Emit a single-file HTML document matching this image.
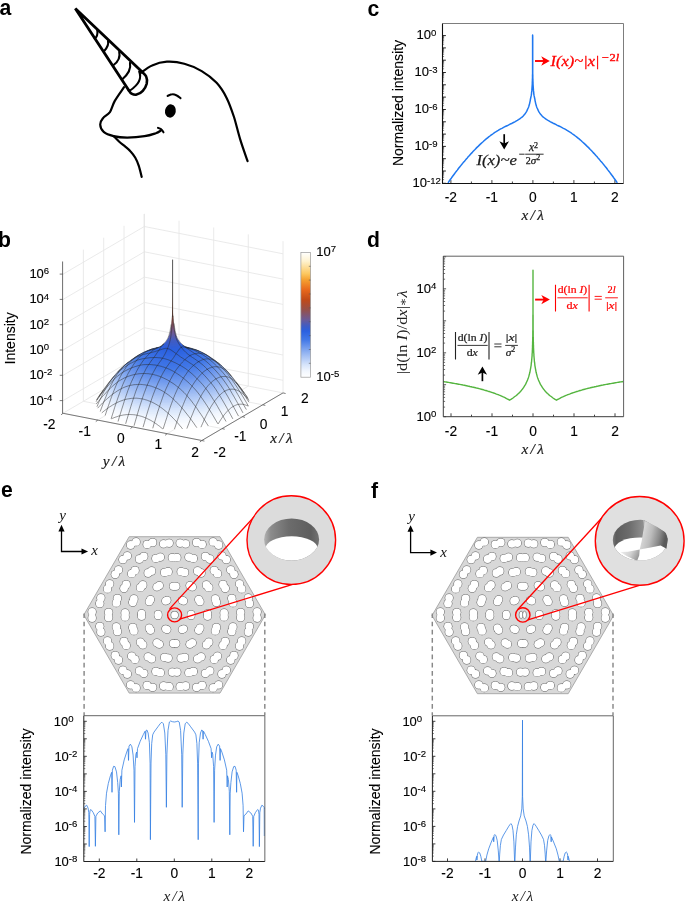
<!DOCTYPE html><html><head><meta charset="utf-8"><title>Figure</title><style>html,body{margin:0;padding:0;background:#fff}svg{display:block}</style></head><body><svg width="685" height="904" viewBox="0 0 685 904"><rect width="685" height="904" fill="#fff"/><g font-family='"Liberation Sans", Arial, sans-serif' font-weight="bold" font-size="22.3" fill="#000"><text transform="translate(-0.45 15.3) scale(0.95 1)">a</text><text transform="translate(-1.90 246.9) scale(0.95 1)">b</text><text transform="translate(367.45 15.6) scale(0.95 1)">c</text><text transform="translate(367.05 246.9) scale(0.95 1)">d</text><text transform="translate(1.00 497.4) scale(0.95 1)">e</text><text transform="translate(371.00 497.7) scale(0.95 1)">f</text></g><g fill="none" stroke="#000" stroke-width="2.2" stroke-linecap="round" stroke-linejoin="round"><path d="M128.9 90.5L75.3 8.6L141.7 71.5" stroke-width="2.8" stroke-linejoin="miter"/><path d="M141.7 71.5C142.5 72.4 145.4 74.6 146.2 76.6C147.1 78.7 147.2 81.4 146.7 83.8C146.1 86.2 144.4 89.1 142.8 90.9C141.1 92.8 138.5 94.2 136.6 94.6C134.8 95.1 132.8 94.3 131.5 93.6C130.2 92.9 129.3 91 128.9 90.5" stroke-width="2.6"/><path d="M97.3 30.2Q98.1 36.2 94.7 38.7" stroke-width="2.1"/><path d="M108 41Q109.2 45.3 104.4 50.7" stroke-width="2.1"/><path d="M119.2 51.7Q121 59.4 113.6 65" stroke-width="2.1"/><path d="M130 62.9Q131.7 71.1 122.3 79.3" stroke-width="2.1"/><path d="M139.2 71.5Q143.3 81.6 130 90.5" stroke-width="2.1"/><path d="M140.9 72.8C142.7 71.6 147.7 67.2 152.1 65.4C156.4 63.5 161.6 62 166.9 61.7C172.3 61.4 178.5 62.1 184.3 63.7C190.1 65.2 196.3 67.9 201.7 71.1C207.1 74.3 212.4 78.3 216.6 82.8C220.7 87.2 223.6 91.9 226.5 97.7C229.4 103.4 231.7 110.1 234 117C236.2 124 237.9 132 240.2 139.4C242.4 146.7 246.4 157.6 247.6 161.2"/><path d="M124 87.2C122.5 89.5 117.2 96.7 114.8 100.9C112.5 105 111.8 109.2 109.9 112.1C107.9 114.9 104.5 116.2 102.9 118.3C101.3 120.3 100.1 122.2 100.2 124.5C100.3 126.7 101.4 130 103.7 131.9C105.9 133.9 109.6 135.2 113.6 136.1C117.5 137.1 122.1 137.6 127.2 137.6C132.4 137.6 139.8 137 144.6 136.2C149.4 135.5 153 134.2 155.8 133.3C158.5 132.3 160.1 131 161 130.5"/><path d="M158 127.8C158.6 128.1 160.6 128.7 161.5 129.5C162.4 130.2 163.1 131.8 163.5 132.3" stroke-width="2.05"/><path d="M113.8 136.3C114.7 137.2 117.2 139.9 119 141.5C120.8 143.2 122.9 144.6 124.8 146.2C126.7 147.8 128.9 149.5 130.6 151.4C132.4 153.3 133.9 155.4 135.3 157.8C136.7 160.2 137.7 162.7 138.8 165.9C139.9 169.1 141.2 175.1 141.7 176.9"/><path d="M167.6 95.9C168.4 95.6 170.9 94.2 172.4 94.2C173.9 94.1 175.4 94.8 176.8 95.5C178.1 96.1 179.9 97.7 180.5 98.1" stroke-width="2.1"/><ellipse cx="170.4" cy="111" rx="5.4" ry="6.7" fill="#000" stroke="none" transform="rotate(10 170.4 111)"/></g><path d="M63.1 413.2L144.3 365.6M63.1 413.2L201.8 440.5M97.8 420L179 372.4M83.4 401.3L222.1 428.6M132.5 426.9L213.7 379.2M103.7 389.4L242.4 416.7M167.1 433.7L248.3 386.1M124 377.5L262.7 404.8M201.8 440.5L283 392.9M144.3 365.6L283 392.9M63.1 413.2v-151.7M144.3 365.6v-151.7M83.4 401.3v-151.7M179 372.4v-151.7M103.7 389.4v-151.7M213.7 379.2v-151.7M124 377.5v-151.7M248.3 386.1v-151.7M144.3 365.6v-151.7M283 392.9v-151.7M63.1 400.6L144.3 353L283 380.3M63.1 375.3L144.3 327.7L283 355M63.1 350L144.3 302.4L283 329.7M63.1 324.7L144.3 277.1L283 304.4M63.1 299.4L144.3 251.8L283 279.1M63.1 274.1L144.3 226.5L283 253.8" fill="none" stroke="#e4e4e4" stroke-width="0.8"/><clipPath id="cb"><path d="M62.5 261.5L143.8 213.9L283 241.2V392.9L201.8 440.5L62.5 413.2Z"/></clipPath><g clip-path="url(#cb)"><g transform="translate(-0.45 0)"><circle r="1" transform="matrix(38.57 -22.61 65.882 12.967 173.05 403.05)" fill="#ffffff"/><circle r="1" transform="matrix(38.062 -22.312 65.016 12.797 173.05 401.59)" fill="#fcfdff"/><circle r="1" transform="matrix(37.555 -22.015 64.149 12.626 173.05 400.14)" fill="#fafcff"/><circle r="1" transform="matrix(37.047 -21.718 63.282 12.456 173.05 398.69)" fill="#f7fafe"/><circle r="1" transform="matrix(36.54 -21.42 62.415 12.285 173.05 397.26)" fill="#f4f8fe"/><circle r="1" transform="matrix(36.032 -21.122 61.548 12.114 173.05 395.84)" fill="#f2f6fe"/><circle r="1" transform="matrix(35.525 -20.825 60.681 11.944 173.05 394.43)" fill="#edf4fe"/><circle r="1" transform="matrix(35.017 -20.527 59.814 11.773 173.05 393.04)" fill="#e8f0fd"/><circle r="1" transform="matrix(34.51 -20.23 58.947 11.602 173.05 391.65)" fill="#e3edfc"/><circle r="1" transform="matrix(34.002 -19.932 58.081 11.432 173.05 390.27)" fill="#deeafc"/><circle r="1" transform="matrix(33.495 -19.635 57.214 11.261 173.05 388.89)" fill="#dae6fb"/><circle r="1" transform="matrix(32.988 -19.338 56.347 11.091 173.05 387.53)" fill="#d4e3fb"/><circle r="1" transform="matrix(32.48 -19.04 55.48 10.92 173.05 386.18)" fill="#cedefa"/><circle r="1" transform="matrix(31.973 -18.742 54.613 10.749 173.05 384.87)" fill="#c8daf9"/><circle r="1" transform="matrix(31.465 -18.445 53.746 10.579 173.05 383.58)" fill="#c2d6f8"/><circle r="1" transform="matrix(30.957 -18.148 52.879 10.408 173.05 382.32)" fill="#bcd1f7"/><circle r="1" transform="matrix(30.45 -17.85 52.012 10.238 173.05 381.06)" fill="#b6cdf7"/><circle r="1" transform="matrix(29.942 -17.552 51.146 10.067 173.05 379.81)" fill="#b0c9f6"/><circle r="1" transform="matrix(29.435 -17.255 50.279 9.896 173.05 378.59)" fill="#abc5f5"/><circle r="1" transform="matrix(28.927 -16.957 49.412 9.726 173.05 377.41)" fill="#a5c1f4"/><circle r="1" transform="matrix(28.42 -16.66 48.545 9.555 173.05 376.27)" fill="#a0bdf3"/><circle r="1" transform="matrix(27.913 -16.363 47.678 9.384 173.05 375.2)" fill="#9bb9f3"/><circle r="1" transform="matrix(27.405 -16.065 46.811 9.214 173.05 374.17)" fill="#96b6f2"/><circle r="1" transform="matrix(26.898 -15.768 45.944 9.043 173.05 373.17)" fill="#91b3f1"/><circle r="1" transform="matrix(26.39 -15.47 45.077 8.872 173.05 372.2)" fill="#8caff1"/><circle r="1" transform="matrix(25.883 -15.172 44.211 8.702 173.05 371.26)" fill="#88acf0"/><circle r="1" transform="matrix(25.375 -14.875 43.344 8.531 173.05 370.35)" fill="#83a8ef"/><circle r="1" transform="matrix(24.868 -14.578 42.477 8.361 173.05 369.47)" fill="#7fa5ef"/><circle r="1" transform="matrix(24.36 -14.28 41.61 8.19 173.05 368.61)" fill="#7aa2ee"/><circle r="1" transform="matrix(23.852 -13.982 40.743 8.019 173.05 367.77)" fill="#769eee"/><circle r="1" transform="matrix(23.345 -13.685 39.876 7.849 173.05 366.94)" fill="#729bed"/><circle r="1" transform="matrix(22.838 -13.388 39.009 7.678 173.05 366.13)" fill="#6e98ed"/><circle r="1" transform="matrix(22.33 -13.09 38.142 7.508 173.05 365.35)" fill="#6a95ec"/><circle r="1" transform="matrix(21.823 -12.793 37.276 7.337 173.05 364.58)" fill="#6692ec"/><circle r="1" transform="matrix(21.315 -12.495 36.409 7.166 173.05 363.84)" fill="#6290eb"/><circle r="1" transform="matrix(20.807 -12.197 35.542 6.996 173.05 363.12)" fill="#5e8deb"/><circle r="1" transform="matrix(20.3 -11.9 34.675 6.825 173.05 362.41)" fill="#5b8aea"/><circle r="1" transform="matrix(19.793 -11.603 33.808 6.654 173.05 361.72)" fill="#5788ea"/><circle r="1" transform="matrix(19.285 -11.305 32.941 6.484 173.05 361.03)" fill="#5485e9"/><circle r="1" transform="matrix(18.777 -11.008 32.074 6.313 173.05 360.36)" fill="#5083e9"/><circle r="1" transform="matrix(18.27 -10.71 31.207 6.143 173.05 359.71)" fill="#4d80e8"/><circle r="1" transform="matrix(17.762 -10.412 30.341 5.972 173.05 359.09)" fill="#4a7ee8"/><circle r="1" transform="matrix(17.255 -10.115 29.474 5.801 173.05 358.52)" fill="#477ce8"/><circle r="1" transform="matrix(16.747 -9.817 28.607 5.631 173.05 357.98)" fill="#447ae7"/><circle r="1" transform="matrix(16.24 -9.52 27.74 5.46 173.05 357.48)" fill="#4278e7"/><circle r="1" transform="matrix(15.732 -9.222 26.873 5.289 173.05 357)" fill="#4177e7"/><circle r="1" transform="matrix(15.225 -8.925 26.006 5.119 173.05 356.54)" fill="#4076e6"/><circle r="1" transform="matrix(14.718 -8.628 25.139 4.948 173.05 356.09)" fill="#3f75e6"/><circle r="1" transform="matrix(14.21 -8.33 24.272 4.777 173.05 355.66)" fill="#3e74e6"/><circle r="1" transform="matrix(13.703 -8.033 23.406 4.607 173.05 355.22)" fill="#3d73e5"/><circle r="1" transform="matrix(13.195 -7.735 22.539 4.436 173.05 354.79)" fill="#3c72e5"/><circle r="1" transform="matrix(12.688 -7.438 21.672 4.266 173.05 354.37)" fill="#3b71e5"/><circle r="1" transform="matrix(12.18 -7.14 20.805 4.095 173.05 353.96)" fill="#3a70e5"/><circle r="1" transform="matrix(11.672 -6.842 19.938 3.924 173.05 353.55)" fill="#396fe4"/><circle r="1" transform="matrix(11.165 -6.545 19.071 3.754 173.05 353.14)" fill="#386ee4"/><circle r="1" transform="matrix(10.658 -6.248 18.204 3.583 173.05 352.72)" fill="#376de4"/><circle r="1" transform="matrix(10.15 -5.95 17.337 3.413 173.05 352.27)" fill="#366ce4"/><circle r="1" transform="matrix(9.643 -5.653 16.471 3.242 173.05 351.78)" fill="#356be3"/><circle r="1" transform="matrix(9.135 -5.355 15.604 3.071 173.05 351.27)" fill="#346ae3"/><circle r="1" transform="matrix(8.628 -5.058 14.737 2.901 173.05 350.73)" fill="#3369e3"/><circle r="1" transform="matrix(8.12 -4.76 13.87 2.73 173.05 350.17)" fill="#3167e2"/><circle r="1" transform="matrix(7.613 -4.463 13.003 2.559 173.05 349.57)" fill="#3066e2"/><circle r="1" transform="matrix(7.105 -4.165 12.136 2.389 173.05 348.93)" fill="#2f65e1"/><circle r="1" transform="matrix(6.597 -3.867 11.269 2.218 173.05 348.23)" fill="#2d63e1"/><circle r="1" transform="matrix(6.09 -3.57 10.402 2.048 173.05 347.45)" fill="#2b61e0"/><circle r="1" transform="matrix(5.583 -3.273 9.536 1.877 173.05 346.57)" fill="#2b60de"/><circle r="1" transform="matrix(5.075 -2.975 8.669 1.706 173.05 345.57)" fill="#2f5fda"/><circle r="1" transform="matrix(4.568 -2.678 7.802 1.536 173.05 344.49)" fill="#325ed5"/><circle r="1" transform="matrix(4.06 -2.38 6.935 1.365 173.05 343.36)" fill="#365ed0"/><circle r="1" transform="matrix(3.553 -2.083 6.068 1.194 173.05 342.16)" fill="#3a5dca"/><circle r="1" transform="matrix(3.045 -1.785 5.201 1.024 173.05 340.82)" fill="#3f5cc4"/><circle r="1" transform="matrix(2.538 -1.488 4.334 0.853 173.05 339.18)" fill="#495cba"/><circle r="1" transform="matrix(2.03 -1.19 3.467 0.683 173.05 336.95)" fill="#555bad"/><linearGradient id="spg" gradientUnits="userSpaceOnUse" x1="0" y1="251.4" x2="0" y2="403.1"><stop offset="0" stop-color="#ffffff"/><stop offset="0.07" stop-color="#fff3d0"/><stop offset="0.17" stop-color="#fcc860"/><stop offset="0.22" stop-color="#f5a030"/><stop offset="0.3" stop-color="#e8681c"/><stop offset="0.38" stop-color="#c04a18"/><stop offset="0.46" stop-color="#95504a"/><stop offset="0.54" stop-color="#6a5a98"/><stop offset="0.59" stop-color="#3f5cc4"/><stop offset="0.63" stop-color="#2a60e0"/><stop offset="0.7" stop-color="#4278e7"/><stop offset="0.8" stop-color="#8fb1f1"/><stop offset="0.9" stop-color="#d6e4fb"/><stop offset="0.95" stop-color="#f1f6fe"/><stop offset="1" stop-color="#ffffff"/></linearGradient><polygon points="166.62,341.38 167.4,340.25 168.08,339.07 168.68,337.83 169.21,336.46 169.67,334.99 170.08,333.48 170.44,331.99 170.76,330.5 171.03,328.99 171.28,327.49 171.49,326.02 171.68,324.6 171.85,323.23 171.99,321.96 172.12,320.73 172.23,319.51 172.33,318.28 172.42,317.02 172.49,315.7 172.56,314.33 172.62,312.91 172.67,311.46 172.72,310 172.76,308.54 172.79,307.08 172.82,305.63 172.85,304.2 172.88,302.79 172.9,301.42 172.92,300.07 172.93,298.75 172.95,297.44 172.96,296.12 172.97,294.79 172.98,293.44 172.99,292.07 173,290.67 173,289.25 173.01,287.73 173.01,286.11 173.02,284.43 173.02,282.72 173.02,281.04 173.03,279.39 173.03,277.8 173.03,276.29 173.03,274.82 173.04,273.4 173.04,272 173.04,270.63 173.04,269.3 173.04,268 173.04,266.73 173.04,265.48 173.04,264.27 173.05,262.91 173.05,261.33 173.05,260.07 173.05,259.57 173.05,259.57 173.05,260.07 173.05,261.33 173.05,262.91 173.06,264.27 173.06,265.48 173.06,266.73 173.06,268 173.06,269.3 173.06,270.63 173.06,272 173.06,273.4 173.07,274.82 173.07,276.29 173.07,277.8 173.07,279.39 173.08,281.04 173.08,282.72 173.08,284.43 173.09,286.11 173.09,287.73 173.1,289.25 173.1,290.67 173.11,292.07 173.12,293.44 173.13,294.79 173.14,296.12 173.15,297.44 173.17,298.75 173.18,300.07 173.2,301.42 173.22,302.79 173.25,304.2 173.28,305.63 173.31,307.08 173.34,308.54 173.38,310 173.43,311.46 173.48,312.91 173.54,314.33 173.61,315.7 173.68,317.02 173.77,318.28 173.87,319.51 173.98,320.73 174.11,321.96 174.25,323.23 174.42,324.6 174.61,326.02 174.82,327.49 175.07,328.99 175.34,330.5 175.66,331.99 176.02,333.48 176.43,334.99 176.89,336.46 177.42,337.83 178.02,339.07 178.7,340.25 179.48,341.38" fill="url(#spg)"/><path d="M111.9 418.8 L112.7 418.4 L113.6 418.1 L114.4 417.7 L115.3 417.4 L116.1 417.1 L117 416.8 L117.9 416.5 L118.7 416.2 L119.6 416 L120.4 415.8 L121.3 415.6 L122.1 415.4 L123 415.2 L123.8 415 L124.7 414.9 L125.6 414.8 L126.4 414.7 L127.3 414.6 L128.1 414.6 L129 414.5 L129.8 414.5 L130.7 414.5 L131.5 414.6 L132.3 414.6 L132.4 414.6 L133.1 414.6 L133.2 414.7 L133.7 414.7 L134.1 414.7 L134.3 414.8 L134.9 414.8 L135 414.8 L135.3 414.9 L135.7 414.9 L135.8 415 L136.1 415 L136.4 415.1 L136.7 415.1 L136.7 415.1 L136.9 415.1 L137.1 415.2 L137.2 415.2 L137.3 415.2 L137.4 415.2 L137.4 415.2 L137.5 415.2 L137.5 415.3 L137.5 415.3 L137.5 415.3 L137.5 415.3 L137.5 415.3 L137.5 415.3 L137.5 415.3 L137.6 415.3 L137.6 415.3 L137.7 415.3 L137.7 415.3 L137.9 415.3 L138 415.4 L138.2 415.4 L138.4 415.4 L138.4 415.4 L138.6 415.5 L139 415.6 L139.2 415.6 L139.3 415.6 L139.7 415.8 L140.1 415.8 L140.2 415.9 L140.7 416 L140.9 416.1 L141.3 416.2 L141.8 416.3 L142 416.4 L142.7 416.6 L142.7 416.6 L143.5 416.9 L144.4 417.2 L145.2 417.6 L146.1 417.9 L146.9 418.3 L147.8 418.7 L148.6 419.1 L149.5 419.5 L150.4 420 L151.2 420.4 L152.1 420.9 L152.9 421.4 L153.8 421.9 L154.6 422.5 L155.5 423.1 L156.3 423.6 L157.2 424.2 L158.1 424.9 L158.9 425.5 L159.8 426.1 L160.6 426.8 L161.5 427.5 L162.3 428.2 L163.2 428.9M97.3 399.9 L97.8 399.1 L98.3 398.2 L98.9 397.4 L99.4 396.6 L99.9 395.8 L100.4 395.1 L100.9 394.3 L101.4 393.6 L101.9 392.9 L102.4 392.2 L102.9 391.6 L103.4 390.9 L103.9 390.3 L104.4 389.7M102.2 412.9 L103.5 411.8 L104.9 410.7 L106.2 409.7 L107.6 408.7 L108.9 407.8 L110.2 406.8 L111.6 406 L112.9 405.1 L114.3 404.4 L115.6 403.6 L117 402.9 L118.3 402.2 L119.7 401.6 L121 401.1 L122.4 400.6 L123.7 400.1 L125.1 399.7 L126.4 399.3 L127.8 399 L129.1 398.8 L130.5 398.6 L131.8 398.4 L133.2 398.3 L134.5 398.2 L135.9 398.2 L137.2 398.2 L137.4 398.3 L138.1 398.3 L138.6 398.3 L138.8 398.4 L139.4 398.4 L139.9 398.5 L139.9 398.5 L140.4 398.5 L140.8 398.6 L141.2 398.7 L141.3 398.7 L141.5 398.7 L141.7 398.7 L141.9 398.8 L142.1 398.8 L142.3 398.8 L142.4 398.9 L142.5 398.9 L142.5 398.9 L142.6 398.9 L142.6 398.9 L142.6 398.9 L142.6 398.9 L142.6 398.9 L142.6 398.9 L142.6 398.9 L142.6 398.9 L142.6 398.9 L142.7 398.9 L142.7 398.9 L142.8 399 L142.9 399 L143.1 399 L143.3 399 L143.5 399.1 L143.7 399.1 L143.9 399.2 L144 399.2 L144.4 399.3 L144.8 399.4 L145.3 399.5 L145.3 399.5 L145.8 399.7 L146.4 399.9 L146.6 399.9 L147.1 400.1 L147.8 400.3 L148 400.4 L149.3 400.9 L150.7 401.4 L152 402 L153.4 402.6 L154.7 403.3 L156.1 404.1 L157.4 404.8 L158.8 405.7 L160.1 406.6 L161.5 407.5 L162.8 408.5 L164.2 409.6 L165.5 410.7 L166.9 411.8 L168.2 413 L169.6 414.2 L170.9 415.5 L172.3 416.8 L173.6 418.2 L175 419.6 L176.3 421 L177.6 422.5 L179 424 L180.3 425.6 L181.7 427.2 L183 428.9M97.4 406.7 L98.2 404.8 L98.9 403 L99.7 401.3 L100.5 399.5 L101.3 397.9 L102.1 396.2 L102.9 394.6 L103.7 393.1 L104.5 391.6 L105.3 390.1 L106 388.7 L106.8 387.3 L107.6 385.9 L108.4 384.6 L109.2 383.4 L110 382.2 L110.8 381.1 L111.6 380 L112.4 378.9 L113.1 377.9 L113.9 377 L114.7 376.1 L115.5 375.3M98.1 408.2 L99.7 406.4 L101.4 404.7 L103 403 L104.7 401.4 L106.3 399.9 L108 398.4 L109.6 397 L111.3 395.6 L112.9 394.3 L114.6 393.1 L116.3 392 L117.9 390.9 L119.6 389.9 L121.2 389 L122.9 388.1 L124.5 387.4 L126.2 386.7 L127.8 386.2 L129.5 385.7 L131.1 385.3 L132.8 385 L134.4 384.7 L136.1 384.6 L137.8 384.5 L139.4 384.4 L141.1 384.4 L142.5 384.5 L142.7 384.5 L143.2 384.6 L143.9 384.7 L144.4 384.7 L144.5 384.7 L145 384.8 L145.5 384.9 L145.9 384.9 L146 384.9 L146.2 385 L146.6 385 L146.8 385.1 L147 385.1 L147.2 385.1 L147.3 385.2 L147.5 385.2 L147.5 385.2 L147.6 385.2 L147.6 385.2 L147.7 385.2 L147.7 385.2 L147.7 385.2 L147.7 385.2 L147.7 385.2 L147.7 385.2 L147.7 385.2 L147.7 385.2 L147.8 385.2 L147.8 385.3 L147.9 385.3 L148 385.3 L148.1 385.3 L148.3 385.4 L148.5 385.4 L148.8 385.5 L149.1 385.5 L149.3 385.6 L149.5 385.6 L149.9 385.7 L150.3 385.8 L150.9 386 L151 386 L151.5 386.1 L152.1 386.3 L152.6 386.5 L152.9 386.6 L154.3 387.1 L155.9 387.7 L157.6 388.4 L159.3 389.1 L160.9 389.9 L162.6 390.8 L164.2 391.8 L165.9 392.9 L167.5 394 L169.2 395.2 L170.8 396.5 L172.5 397.9 L174.1 399.4 L175.8 401 L177.4 402.6 L179.1 404.3 L180.8 406.1 L182.4 408 L184.1 409.9 L185.7 412 L187.4 414.1 L189 416.2 L190.7 418.4 L192.3 420.6 L194 422.9 L195.6 425.3 L197.3 427.7M100.7 411.5 L101.6 408.9 L102.6 406.3 L103.6 403.8 L104.5 401.3 L105.5 398.8 L106.5 396.5 L107.4 394.1 L108.4 391.9 L109.4 389.7 L110.3 387.6 L111.3 385.5 L112.3 383.6 L113.2 381.7 L114.2 379.9 L115.2 378.1 L116.2 376.5 L117.1 374.9 L118.1 373.5 L119.1 372.1 L120 370.8 L121 369.6 L122 368.5 L122.9 367.4 L123.9 366.4 L124.9 365.5 L125.8 364.6 L126.7 363.9 L126.8 363.8 L127.1 363.6 L127.5 363.3 L127.8 363.1 L127.8 363 L128.1 362.8 L128.4 362.6 L128.7 362.5 L128.7 362.4 L128.9 362.3 L129 362.2 L129.2 362.1M96.7 403.9 L98.6 401.6 L100.5 399.4 L102.3 397.2 L104.2 395.1 L106.1 393.1 L107.9 391.1 L109.8 389.2 L111.7 387.4 L113.5 385.7 L115.4 384.1 L117.3 382.6 L119.1 381.2 L121 380.1 L122.9 379 L124.7 378 L126.6 377.2 L128.5 376.4 L130.3 375.8 L132.2 375.2 L134.1 374.7 L135.9 374.3 L137.8 374 L139.7 373.7 L141.5 373.6 L143.4 373.5 L145.3 373.5 L147.1 373.6 L147.5 373.6 L148.3 373.7 L149 373.7 L149 373.7 L149.6 373.8 L150.1 373.9 L150.6 373.9 L150.9 374 L151 374 L151.3 374.1 L151.6 374.1 L151.9 374.2 L152.1 374.2 L152.3 374.2 L152.4 374.2 L152.5 374.3 L152.6 374.3 L152.7 374.3 L152.7 374.3 L152.7 374.3 L152.7 374.3 L152.7 374.3 L152.8 374.3 L152.8 374.3 L152.8 374.3 L152.8 374.3 L152.8 374.3 L152.8 374.3 L152.9 374.3 L153 374.4 L153.1 374.4 L153.2 374.4 L153.4 374.4 L153.6 374.5 L153.9 374.5 L154.2 374.6 L154.5 374.7 L154.6 374.7 L154.9 374.8 L155.4 374.9 L155.9 375.1 L156.5 375.2 L156.5 375.2 L157.2 375.4 L158 375.7 L158.4 375.8 L160.2 376.4 L162.1 377.2 L164 378 L165.8 378.9 L167.7 379.8 L169.6 380.9 L171.4 382.1 L173.3 383.3 L175.2 384.6 L177 386 L178.9 387.5 L180.8 389.1 L182.6 390.8 L184.5 392.5 L186.4 394.5 L188.2 396.6 L190.1 398.8 L192 401.2 L193.8 403.6 L195.7 406.1 L197.6 408.7 L199.4 411.5 L201.3 414.2 L203.2 417.1 L205 420 L206.9 423 L208.8 426M105.6 415.5 L106.7 412.2 L107.8 408.9 L108.9 405.7 L110 402.6 L111 399.6 L112.1 396.6 L113.2 393.7 L114.3 390.9 L115.4 388.2 L116.5 385.5 L117.6 383 L118.7 380.7 L119.8 378.5 L120.9 376.4 L122 374.4 L123.1 372.6 L124.2 370.8 L125.3 369.2 L126.3 367.6 L127.4 366.1 L128.5 364.6 L129.6 363.3 L130.7 362.1 L131.8 360.9 L132.9 359.8 L134 358.8 L135.1 357.9 L135.3 357.7 L135.8 357.4 L136.2 357.1 L136.2 357 L136.5 356.8 L136.8 356.6 L137.1 356.4 L137.3 356.3 L137.3 356.2 L137.5 356.1 L137.7 356 L137.9 355.9 L138 355.8 L138.1 355.8 L138.2 355.7 L138.2 355.7 L138.3 355.6 L138.3 355.6 L138.4 355.6 L138.4 355.6 L138.4 355.6 L138.4 355.6 L138.4 355.6 L138.4 355.6 L138.4 355.6 L138.4 355.6 L138.4 355.6 L138.4 355.6 L138.5 355.5 L138.5 355.5 L138.6 355.5 L138.7 355.4 L138.8 355.4 L138.9 355.3 L139 355.2 L139.2 355.1 L139.4 355 L139.5 355 L139.7 354.9 L139.9 354.8 L140.2 354.6 L140.6 354.5 L140.6 354.5M97.3 400.1 L99.3 397.4 L101.3 394.7 L103.3 392.1 L105.4 389.6 L107.4 387.2 L109.4 384.8 L111.4 382.6 L113.4 380.4 L115.5 378.4 L117.5 376.6 L119.5 375 L121.5 373.5 L123.5 372.2 L125.5 371 L127.6 369.9 L129.6 368.9 L131.6 368.1 L133.6 367.3 L135.6 366.6 L137.6 366 L139.7 365.4 L141.7 365 L143.7 364.7 L145.7 364.6 L147.7 364.5 L149.8 364.5 L151.8 364.6 L152.6 364.7 L153.4 364.8 L153.8 364.8 L154 364.9 L154.6 364.9 L155.2 365 L155.6 365.1 L155.8 365.1 L156 365.1 L156.4 365.2 L156.7 365.3 L157 365.3 L157.2 365.3 L157.4 365.4 L157.5 365.4 L157.6 365.4 L157.7 365.4 L157.7 365.4 L157.8 365.5 L157.8 365.5 L157.8 365.5 L157.8 365.5 L157.8 365.5 L157.8 365.5 L157.8 365.5 L157.8 365.5 L157.9 365.5 L157.9 365.5 L158 365.5 L158 365.5 L158.2 365.5 L158.3 365.6 L158.5 365.6 L158.7 365.6 L158.9 365.7 L159.3 365.8 L159.6 365.8 L159.8 365.9 L160 365.9 L160.5 366.1 L161 366.2 L161.6 366.4 L161.9 366.4 L162.3 366.5 L163 366.8 L163.9 367 L165.9 367.7 L167.9 368.5 L169.9 369.3 L171.9 370.3 L174 371.4 L176 372.6 L178 373.9 L180 375.3 L182 376.8 L184.1 378.4 L186.1 380.1 L188.1 381.8 L190.1 383.7 L192.1 385.7 L194.1 387.8 L196.2 390.1 L198.2 392.5 L200.2 395.1 L202.2 397.9 L204.2 400.8 L206.3 403.9 L208.3 407 L210.3 410.3 L212.3 413.6 L214.3 416.9 L216.3 420.4 L218.4 423.9M111.6 418.7 L112.8 414.9 L114 411.2 L115.1 407.5 L116.3 403.9 L117.5 400.4 L118.7 396.9 L119.9 393.6 L121.1 390.4 L122.2 387.2 L123.4 384.3 L124.6 381.6 L125.8 379.1 L127 376.7 L128.1 374.4 L129.3 372.2 L130.5 370.2 L131.7 368.2 L132.9 366.3 L134 364.5 L135.2 362.8 L136.4 361.2 L137.6 359.7 L138.8 358.3 L140 357.1 L141.1 355.9 L142.3 354.8 L143.5 353.9 L144 353.5 L144.4 353.2 L144.7 353 L144.8 352.9 L145.2 352.6 L145.5 352.4 L145.8 352.2 L145.9 352.2 L146 352.1 L146.2 351.9 L146.4 351.8 L146.5 351.7 L146.7 351.6 L146.8 351.6 L146.8 351.5 L146.9 351.5 L147 351.5 L147 351.4 L147 351.4 L147 351.4 L147 351.4 L147 351.4 L147 351.4 L147 351.4 L147 351.4 L147.1 351.4 L147.1 351.4 L147.1 351.4 L147.1 351.4 L147.2 351.3 L147.2 351.3 L147.3 351.3 L147.4 351.2 L147.6 351.1 L147.7 351 L147.9 351 L148.1 350.8 L148.2 350.8 L148.3 350.7 L148.6 350.6 L148.9 350.4 L149.3 350.3 L149.4 350.2 L149.7 350.1 L150.1 349.9 L150.6 349.7 L151.8 349.3 L153 349 L154.1 348.8M99.3 396.5 L101.5 393.5 L103.6 390.5 L105.7 387.7 L107.8 384.8 L109.9 382.1 L112.1 379.5 L114.2 377 L116.3 374.6 L118.4 372.5 L120.5 370.6 L122.6 368.9 L124.8 367.3 L126.9 365.9 L129 364.6 L131.1 363.4 L133.2 362.3 L135.4 361.2 L137.5 360.3 L139.6 359.6 L141.7 359.1 L143.8 358.6 L146 358.3 L148.1 358 L150.2 357.7 L152.3 357.6 L154.4 357.5 L156.5 357.5 L157.7 357.6 L158.4 357.6 L158.7 357.7 L159.1 357.7 L159.7 357.7 L160.2 357.8 L160.7 357.9 L160.8 357.9 L161.1 357.9 L161.5 358 L161.8 358 L162 358.1 L162.2 358.1 L162.4 358.1 L162.6 358.2 L162.7 358.2 L162.8 358.2 L162.8 358.2 L162.9 358.2 L162.9 358.2 L162.9 358.2 L162.9 358.2 L162.9 358.2 L162.9 358.2 L162.9 358.2 L162.9 358.2 L162.9 358.2 L163 358.2 L163 358.2 L163.1 358.3 L163.2 358.3 L163.4 358.3 L163.6 358.4 L163.8 358.4 L164 358.5 L164.3 358.5 L164.7 358.6 L165 358.7 L165.1 358.7 L165.6 358.8 L166.1 359 L166.7 359.2 L167.1 359.3 L167.4 359.4 L168.1 359.6 L169.3 360 L171.4 360.9 L173.5 361.8 L175.6 362.7 L177.7 363.8 L179.8 364.9 L182 366.1 L184.1 367.4 L186.2 368.8 L188.3 370.3 L190.4 372.1 L192.6 373.9 L194.7 375.9 L196.8 377.9 L198.9 380.1 L201 382.3 L203.2 384.7 L205.3 387.3 L207.4 390 L209.5 393 L211.6 396.2 L213.7 399.5 L215.9 402.9 L218 406.5 L220.1 410.2 L222.2 413.9 L224.3 417.7 L226.5 421.5M118.5 421.5 L119.7 417.3 L121 413.2 L122.2 409.2 L123.5 405.2 L124.7 401.3 L125.9 397.6 L127.2 393.9 L128.4 390.4 L129.7 387.1 L130.9 384.1 L132.1 381.3 L133.4 378.6 L134.6 376 L135.9 373.5 L137.1 371.2 L138.3 368.9 L139.6 366.8 L140.8 364.7 L142.1 362.8 L143.3 361.1 L144.5 359.5 L145.8 358 L147 356.6 L148.3 355.2 L149.5 354 L150.8 352.7 L152 351.6 L152.7 351 L153.1 350.7 L153.2 350.6 L153.5 350.4 L153.8 350.1 L154.2 349.9 L154.4 349.7 L154.5 349.7 L154.7 349.5 L154.9 349.4 L155.1 349.3 L155.2 349.2 L155.3 349.1 L155.4 349 L155.5 349 L155.6 348.9 L155.6 348.9 L155.7 348.9 L155.7 348.9 L155.7 348.9 L155.7 348.9 L155.7 348.9 L155.7 348.9 L155.7 348.9 L155.7 348.9 L155.7 348.8 L155.7 348.8 L155.8 348.8 L155.8 348.8 L155.8 348.8 L155.9 348.7 L156 348.7 L156.1 348.6 L156.2 348.6 L156.4 348.5 L156.5 348.4 L156.8 348.3 L157 348.2 L157 348.2 L157.3 348 L157.6 347.9 L157.9 347.8 L158.2 347.7 L158.3 347.6 L158.8 347.5 L159.4 347.3M117.9 372.5 L120.1 370 L122.3 367.8 L124.4 365.9 L126.6 364.1 L128.8 362.4 L131 360.9 L133.1 359.5 L135.3 358.2 L137.5 357 L139.7 356 L141.9 355.2 L144 354.5 L146.2 353.9 L148.4 353.4 L150.6 352.9 L152.7 352.3 L154.9 351.7 L157.1 351 L159.3 350.3 L161.4 349.6 L162.8 349.1 L163.5 348.9 L163.6 348.9 L164.2 348.7 L164.8 348.6 L165.3 348.5 L165.8 348.4 L165.8 348.4 L166.2 348.4 L166.5 348.4 L166.9 348.4 L167.1 348.4 L167.3 348.4 L167.5 348.5 L167.6 348.5 L167.8 348.5 L167.8 348.5 L167.9 348.5 L167.9 348.5 L168 348.5 L168 348.5 L168 348.5 L168 348.5 L168 348.5 L168 348.5 L168 348.6 L168 348.6 L168.1 348.6 L168.1 348.6 L168.2 348.6 L168.3 348.6 L168.4 348.7 L168.6 348.7 L168.8 348.8 L169.1 348.9 L169.4 349 L169.8 349.1 L170.2 349.3 L170.2 349.3 L170.6 349.5 L171.2 349.8 L171.8 350.2 L172.3 350.6 L172.4 350.6 L173.2 351.2 L174.5 352.1 L176.7 353.7 L178.9 355.3 L181 356.9 L183.2 358.3 L185.4 359.7 L187.6 361.1 L189.7 362.5 L191.9 363.9 L194.1 365.5 L196.3 367.1 L198.5 369 L200.6 371.1 L202.8 373.2 L205 375.5 L207.2 377.9 L209.3 380.4 L211.5 383 L213.7 385.8 L215.9 388.8 L218 392.2 L220.2 395.7 L222.4 399.3 L224.6 403.1 L226.8 406.9 L228.9 410.8 L231.1 414.8 L233.3 418.9M126.1 423.8 L127.4 419.4 L128.7 415.1 L130 410.9 L131.2 406.7 L132.5 402.6 L133.8 398.7 L135.1 394.8 L136.3 391.2 L137.6 387.8 L138.9 384.7 L140.2 381.7 L141.4 378.9 L142.7 376.2 L144 373.7 L145.3 371.2 L146.5 368.8 L147.8 366.6 L149.1 364.6 L150.4 362.8 L151.6 361 L152.9 359.3 L154.2 357.6 L155.5 355.9 L156.7 354.1 L158 352.2 L159.3 350.3 L160.6 348.4 L161.3 347.2 L161.8 346.6 L161.8 346.5 L162.2 346.1 L162.5 345.6 L162.8 345.3 L163.1 344.9 L163.1 344.9 L163.3 344.7 L163.5 344.5 L163.7 344.3 L163.9 344.2 L164 344.1 L164.1 344 L164.2 344 L164.3 343.9 L164.3 343.9 L164.3 343.9 L164.4 343.9 L164.4 343.9 L164.4 343.9 L164.4 343.9 L164.4 343.9 L164.4 343.9 L164.4 343.9 L164.4 343.9 L164.4 343.9 L164.4 343.8M131.3 360.5 L133.5 358.8 L135.7 357.3 L137.9 355.9 L140.1 354.5 L142.3 353.3 L144.5 352.3 L146.7 351.5 L148.9 350.8 L151.1 350.2 L153.3 349.6 L155.5 348.9 L157.7 348.1 L159.9 347.1 L162.1 345.8 L164.3 344M173.5 315.7 L173.7 318.9 L173.9 321.6 L174.2 324.3 L174.5 327 L174.8 329.6 L175.2 332.1 L175.2 332.1 L175.7 334.5 L176.2 336.7 L176.8 338.6 L177.4 340.2 L177.5 340.3 L178.3 341.8 L179.6 344.2 L181.8 347.4 L184 350.1 L186.2 352.3 L188.4 354.2 L190.6 355.8 L192.8 357.4 L195 358.8 L197.2 360.4 L199.4 361.9 L201.6 363.6 L203.8 365.4 L206 367.5 L208.2 369.7 L210.4 372 L212.6 374.4 L214.8 376.9 L217 379.6 L219.2 382.4 L221.4 385.5 L223.6 388.9 L225.8 392.4 L228 396.1 L230.1 399.9 L232.3 403.9 L234.5 407.8 L236.7 411.9 L238.9 416M134.5 425.7 L135.8 421.2 L137.1 416.8 L138.3 412.6 L139.6 408.3 L140.9 404.1 L142.2 400.2 L143.5 396.3 L144.8 392.6 L146.1 389.2 L147.3 386 L148.6 383 L149.9 380.2 L151.2 377.4 L152.5 374.8 L153.8 372.3 L155.1 369.9 L156.3 367.7 L157.6 365.8 L158.9 363.9 L160.2 362 L161.5 360.3 L162.8 358.4 L164.1 356.4 L165.3 354.2 L166.6 351.7 L167.9 348.7 L169.2 345.2 L170 342.6 L170.4 341 L170.5 340.8 L170.8 339.2 L171.2 337.1 L171.5 334.9 L171.8 332.5 L171.8 332.4 L172 329.9 L172.2 327.2 L172.4 324.4 L172.5 321.7 L172.7 319 L172.8 315.7M185.9 347 L187.2 347.3 L188.5 347.7M149.8 350.1 L152 349.2 L154.2 348.6 L156.4 348 L158.5 347.4M182.6 344.7 L183.3 345.2 L184.7 346.2 L186.8 347.8 L189 349.4 L191.2 350.9 L193.4 352.4 L195.5 353.8 L197.7 355.1 L199.9 356.5 L202.1 358 L204.2 359.5 L206.4 361.2 L208.6 363.1 L210.8 365.2 L213 367.3 L215.1 369.5 L217.3 371.9 L219.5 374.4 L221.7 377.1 L223.8 379.9 L226 382.9 L228.2 386.2 L230.4 389.7 L232.5 393.4 L234.7 397.1 L236.9 401 L239.1 404.9 L241.3 408.9 L243.4 412.9M143.5 427.2 L144.8 422.8 L146 418.5 L147.3 414.3 L148.6 410.1 L149.9 406 L151.1 402.1 L152.4 398.2 L153.7 394.6 L155 391.2 L156.2 388.1 L157.5 385.2 L158.8 382.3 L160.1 379.6 L161.3 377.1 L162.6 374.6 L163.9 372.2 L165.2 370 L166.4 368 L167.7 366.2 L169 364.4 L170.2 362.7 L171.5 361 L172.8 359.3 L174.1 357.5 L175.3 355.6 L176.6 353.7 L177.9 351.8 L178.7 350.7 L179.1 350 L179.2 349.9 L179.5 349.5 L179.8 349 L180.2 348.7 L180.4 348.4 L180.4 348.3 L180.7 348.1 L180.9 347.9 L181.1 347.8 L181.2 347.6 L181.3 347.5 L181.4 347.5 L181.5 347.4 L181.6 347.4 L181.6 347.3 L181.7 347.3 L181.7 347.3 L181.7 347.3 L181.7 347.3 L181.7 347.3 L181.7 347.3 L181.7 347.3 L181.7 347.3 L181.7 347.3 L181.7 347.3 L181.8 347.3 L181.8 347.2 L181.8 347.2 L181.9 347.2 L182 347.1 L182.1 347.1 L182.2 347 L182.4 347 L182.6 346.9 L182.8 346.9 L183 346.9 L183 346.8 L183.3 346.8 L183.6 346.8 L183.9 346.9 L184.3 347 L184.3 347 L184.8 347.1 L185.5 347.3 L186.8 347.8 L188.1 348.2 L189.4 348.5 L190.6 348.8 L191.9 349.1 L193.2 349.2 L194.5 349.5 L195.7 349.7 L197 350.1 L198.3 350.6 L199.6 351.3M185.4 346.8 L185.9 346.9 L186.4 347.1 L187 347.3 L187.4 347.4 L187.7 347.5 L188.4 347.7 L189.6 348.1 L191.7 349 L193.8 349.9 L195.9 350.8 L198 351.9 L200.1 353 L202.3 354.2 L204.4 355.5 L206.5 356.9 L208.6 358.4 L210.7 360.2 L212.9 362 L215 364 L217.1 366 L219.2 368.2 L221.3 370.4 L223.5 372.8 L225.6 375.4 L227.7 378.1 L229.8 381.1 L231.9 384.3 L234 387.6 L236.2 391 L238.3 394.6 L240.4 398.3 L242.5 402 L244.6 405.8 L246.8 409.6M153.2 428.3 L154.4 424.1 L155.7 420 L156.9 416 L158.1 412.1 L159.4 408.2 L160.6 404.4 L161.9 400.8 L163.1 397.3 L164.3 394 L165.6 390.9 L166.8 388.1 L168.1 385.4 L169.3 382.8 L170.5 380.3 L171.8 378 L173 375.7 L174.3 373.6 L175.5 371.5 L176.7 369.7 L178 368 L179.2 366.4 L180.5 364.9 L181.7 363.4 L182.9 362.1 L184.2 360.8 L185.4 359.6 L186.7 358.4 L187.3 357.9 L187.8 357.5 L187.9 357.4 L188.2 357.2 L188.5 356.9 L188.8 356.7 L189.1 356.5 L189.1 356.5 L189.3 356.3 L189.6 356.2 L189.7 356.1 L189.9 356 L190 355.9 L190.1 355.8 L190.2 355.8 L190.3 355.8 L190.3 355.7 L190.3 355.7 L190.4 355.7 L190.4 355.7 L190.4 355.7 L190.4 355.7 L190.4 355.7 L190.4 355.7 L190.4 355.7 L190.4 355.7 L190.4 355.7 L190.4 355.7 L190.5 355.6 L190.5 355.6 L190.6 355.6 L190.7 355.5 L190.8 355.5 L190.9 355.4 L191 355.3 L191.2 355.2 L191.4 355.1 L191.6 355 L191.7 355 L191.9 354.9 L192.3 354.7 L192.6 354.6 L192.9 354.5 L193 354.4 L193.4 354.3 L194.1 354.1 L195.3 353.8 L196.6 353.5 L197.8 353.3 L199.1 353.2 L200.3 353.2 L201.6 353.3 L202.8 353.4 L204 353.7 L205.3 354.1 L206.5 354.7 L207.8 355.4 L209 356.2 L210.2 357.1M186.5 347.3 L186.8 347.4 L187.2 347.4 L187.4 347.5 L187.6 347.5 L187.8 347.5 L187.9 347.5 L188.1 347.6 L188.1 347.6 L188.2 347.6 L188.2 347.6 L188.3 347.6 L188.3 347.6 L188.3 347.6 L188.3 347.6 L188.3 347.6 L188.3 347.6 L188.3 347.6 L188.3 347.6 L188.4 347.6 L188.4 347.6 L188.5 347.7 L188.6 347.7 L188.7 347.7 L188.9 347.7 L189.1 347.8 L189.4 347.8 L189.7 347.9 L190.1 348 L190.3 348.1 L190.5 348.1 L190.9 348.2 L191.5 348.3 L192.1 348.5 L192.3 348.6 L192.7 348.7 L193.5 348.9 L194.3 349.2 L196.3 349.9 L198.4 350.6 L200.4 351.5 L202.4 352.4 L204.4 353.5 L206.4 354.7 L208.5 356.1 L210.5 357.5 L212.5 359 L214.5 360.5 L216.5 362.2 L218.5 364 L220.6 365.9 L222.6 367.9 L224.6 370 L226.6 372.2 L228.6 374.6 L230.6 377.2 L232.7 380.1 L234.7 383 L236.7 386 L238.7 389.2 L240.7 392.4 L242.8 395.7 L244.8 399.1 L246.8 402.5 L248.8 406M163.6 428.9 L164.8 425.1 L166 421.4 L167.2 417.7 L168.3 414.1 L169.5 410.6 L170.7 407.1 L171.9 403.8 L173.1 400.6 L174.2 397.5 L175.4 394.6 L176.6 391.9 L177.8 389.3 L179 386.9 L180.2 384.7 L181.3 382.5 L182.5 380.4 L183.7 378.4 L184.9 376.5 L186.1 374.8 L187.2 373.1 L188.4 371.4 L189.6 369.9 L190.8 368.6 L192 367.3 L193.1 366.1 L194.3 365.1 L195.5 364.1 L196 363.7 L196.4 363.4 L196.7 363.2 L196.8 363.1 L197.2 362.9 L197.5 362.6 L197.8 362.5 L197.9 362.4 L198 362.3 L198.2 362.2 L198.4 362.1 L198.5 362 L198.7 361.9 L198.8 361.8 L198.9 361.8 L198.9 361.7 L199 361.7 L199 361.7 L199 361.7 L199 361.7 L199.1 361.7 L199.1 361.7 L199.1 361.7 L199.1 361.7 L199.1 361.7 L199.1 361.7 L199.1 361.6 L199.1 361.6 L199.1 361.6 L199.2 361.6 L199.3 361.5 L199.3 361.5 L199.4 361.4 L199.6 361.4 L199.7 361.3 L199.9 361.2 L200.1 361.1 L200.2 361 L200.3 361 L200.6 360.8 L200.9 360.7 L201.3 360.5 L201.4 360.4 L201.7 360.3 L202.1 360.1 L202.6 359.9 L203.8 359.5 L205 359.2 L206.1 359 L207.3 358.9 L208.5 358.9 L209.7 359 L210.9 359.2 L212.1 359.5 L213.2 359.9 L214.4 360.4 L215.6 361 L216.8 361.7 L218 362.5 L219.1 363.4 L220.3 364.4 L221.5 365.6M210.2 357.1 L212 358.3 L213.9 359.5 L215.8 360.8 L217.6 362.2 L219.5 363.7 L221.4 365.3 L223.2 367 L225.1 368.7 L227 370.7 L228.8 372.8 L230.7 375 L232.6 377.4 L234.4 379.8 L236.3 382.3 L238.2 384.9 L240 387.7 L241.9 390.4 L243.8 393.3 L245.6 396.2 L247.5 399.2 L249.4 402.2M174.9 429.1 L176 425.8 L177.1 422.6 L178.2 419.4 L179.3 416.3 L180.4 413.2 L181.5 410.2 L182.6 407.3 L183.7 404.5 L184.8 401.8 L185.9 399.2 L187 396.7 L188 394.3 L189.1 392.1 L190.2 390.1 L191.3 388.1 L192.4 386.2 L193.5 384.5 L194.6 382.8 L195.7 381.2 L196.8 379.7 L197.9 378.3 L199 377 L200.1 375.7 L201.2 374.5 L202.3 373.4 L203.4 372.4 L204.4 371.5 L204.7 371.3 L205.1 371 L205.5 370.7 L205.5 370.7 L205.9 370.5 L206.2 370.2 L206.4 370 L206.6 369.9 L206.7 369.9 L206.9 369.8 L207.1 369.6 L207.2 369.5 L207.3 369.5 L207.4 369.4 L207.5 369.4 L207.6 369.3 L207.6 369.3 L207.7 369.3 L207.7 369.3 L207.7 369.2 L207.7 369.2 L207.7 369.2 L207.7 369.2 L207.7 369.2 L207.7 369.2 L207.7 369.2 L207.7 369.2 L207.8 369.2 L207.8 369.2 L207.9 369.2 L207.9 369.1 L208 369.1 L208.1 369 L208.2 369 L208.4 368.9 L208.6 368.8 L208.8 368.7 L208.8 368.6 L209 368.5 L209.3 368.4 L209.6 368.3 L209.9 368.1 L209.9 368.1 L210.3 367.9 L210.8 367.8 L211 367.7 L212.1 367.3 L213.2 367 L214.3 366.8 L215.4 366.7 L216.5 366.7 L217.6 366.8 L218.7 366.9 L219.8 367.1 L220.8 367.4 L221.9 367.8 L223 368.3 L224.1 368.9 L225.2 369.5 L226.3 370.3 L227.4 371.2 L228.5 372.3 L229.6 373.6 L230.7 374.9 L231.8 376.3M236.5 382.2 L238.1 384.3 L239.8 386.4 L241.4 388.6 L243.1 390.9 L244.7 393.2 L246.4 395.5 L248 397.9M187.3 428.6 L188.3 426 L189.3 423.4 L190.3 420.8 L191.2 418.3 L192.2 415.9 L193.2 413.5 L194.1 411.2 L195.1 408.9 L196.1 406.7 L197 404.6 L198 402.6 L199 400.6 L199.9 398.7 L200.9 396.9 L201.9 395.2 L202.8 393.5 L203.8 392 L204.8 390.5 L205.7 389.2 L206.7 387.9 L207.7 386.7 L208.6 385.5 L209.6 384.5 L210.6 383.5 L211.6 382.5 L212.5 381.7 L213.3 381 L213.5 380.9 L213.8 380.7 L214.2 380.4 L214.5 380.1 L214.5 380.1 L214.8 379.9 L215.1 379.7 L215.3 379.5 L215.4 379.5 L215.6 379.4 L215.7 379.3 L215.9 379.2 L216 379.1 L216.1 379 L216.2 379 L216.3 379 L216.3 378.9 L216.3 378.9 L216.4 378.9 L216.4 378.9 L216.4 378.9 L216.4 378.9 L216.4 378.9 L216.4 378.9 L216.4 378.9 L216.4 378.9 L216.4 378.9 L216.4 378.9 L216.5 378.8 L216.5 378.8 L216.6 378.8 L216.7 378.7 L216.8 378.7 L216.9 378.6 L217.1 378.5 L217.2 378.4 L217.4 378.3 L217.4 378.3 L217.7 378.2 L218 378.1 L218.3 377.9 L218.3 377.9 L218.6 377.8 L219 377.6 L219.3 377.5 L219.4 377.4 L220.3 377.1 L221.2 376.9 L222.2 376.7 L223.2 376.5 L224.1 376.5 L225.1 376.5 L226.1 376.5 L227 376.7 L228 376.9 L229 377.2 L229.9 377.6 L230.9 378.1 L231.9 378.7 L232.9 379.4 L233.8 380.2 L234.8 381 L235.8 381.9 L236.7 382.9 L237.7 384 L238.7 385.1 L239.6 386.3 L240.6 387.5 L241.6 388.8 L242.5 390.2 L243.5 391.6 L244.5 393M201.4 427.2 L202.2 425.3 L203 423.5 L203.8 421.8 L204.5 420 L205.3 418.3 L206.1 416.7 L206.9 415.1 L207.7 413.5 L208.5 412 L209.3 410.6 L210.1 409.1 L210.9 407.7 L211.6 406.4 L212.4 405.1 L213.2 403.9 L214 402.7 L214.8 401.5 L215.6 400.4 L216.4 399.4 L217.2 398.4 L218 397.5 L218.7 396.6 L219.5 395.8 L220.3 395 L221.1 394.2 L221.9 393.5 L222 393.5 L222.5 393.1 L222.7 392.9 L222.8 392.8 L223.2 392.5 L223.5 392.3 L223.5 392.3 L223.8 392.1 L224 392 L224.2 391.8 L224.3 391.8 L224.4 391.7 L224.6 391.6 L224.7 391.5 L224.8 391.5 L224.9 391.4 L224.9 391.4 L225 391.3 L225 391.3 L225 391.3 L225.1 391.3 L225.1 391.3 L225.1 391.3 L225.1 391.3 L225.1 391.3 L225.1 391.3 L225.1 391.3 L225.1 391.3 L225.1 391.3 L225.1 391.2 L225.2 391.2 L225.3 391.2 L225.3 391.1 L225.4 391.1 L225.6 391 L225.7 390.9 L225.9 390.9 L225.9 390.8 L226.1 390.7 L226.3 390.6 L226.6 390.5 L226.6 390.5 L226.9 390.3 L227.3 390.2 L227.4 390.1 L227.7 390 L228.1 389.9 L228.2 389.8 L229 389.6 L229.8 389.4 L230.6 389.3 L231.4 389.2 L232.2 389.2 L233 389.2 L233.7 389.2 L234.5 389.3 L235.3 389.5 L236.1 389.7 L236.9 390 L237.7 390.3 L238.5 390.7 L239.3 391.1 L240.1 391.5 L240.8 392.1 L241.6 392.6 L242.4 393.2 L243.2 393.8 L244 394.5 L244.8 395.2 L245.6 396 L246.4 396.8 L247.2 397.6 L247.9 398.5 L248.7 399.4M218.7 423.8 L219.2 423 L219.7 422.1 L220.2 421.3 L220.7 420.5 L221.2 419.7 L221.7 419 L222.2 418.2 L222.7 417.5 L223.2 416.8 L223.7 416.1 L224.2 415.4 L224.7 414.8 L225.2 414.2 L225.7 413.6 L226.2 413 L226.7 412.4 L227.2 411.8 L227.7 411.3 L228.2 410.8 L228.7 410.3 L229.2 409.8 L229.7 409.3 L230.2 408.9 L230.7 408.5 L230.7 408.5 L231.1 408.2 L231.2 408.1 L231.5 407.9 L231.7 407.7 L231.9 407.6 L232.2 407.4 L232.2 407.3 L232.4 407.2 L232.7 407 L232.7 407 L232.9 406.9 L233.1 406.8 L233.2 406.7 L233.2 406.7 L233.4 406.6 L233.5 406.5 L233.5 406.5 L233.6 406.5 L233.6 406.4 L233.7 406.4 L233.7 406.4 L233.7 406.4 L233.7 406.4 L233.7 406.4 L233.7 406.4 L233.7 406.4 L233.7 406.4 L233.7 406.4 L233.8 406.4 L233.8 406.3 L233.8 406.3 L233.9 406.3 L233.9 406.3 L234 406.2 L234.1 406.2 L234.2 406.1 L234.2 406.1 L234.4 406 L234.6 405.9 L234.7 405.8 L234.8 405.8 L235 405.7 L235.2 405.6 L235.3 405.6 L235.6 405.4 L235.7 405.4 L236 405.3 L236.2 405.2 L236.3 405.1 L236.7 405 L236.8 404.9 L237.2 404.8 L237.7 404.6 L238.2 404.5 L238.7 404.4 L239.2 404.3 L239.7 404.3 L240.2 404.2 L240.7 404.2 L241.2 404.2 L241.7 404.2 L242.2 404.2 L242.7 404.2 L243.2 404.3 L243.7 404.4 L244.2 404.5 L244.7 404.6 L245.2 404.7 L245.7 404.9 L246.2 405.1 L246.7 405.2 L247.2 405.5 L247.8 405.7 L248.3 405.9 L248.8 406.2" fill="none" stroke="#2a2a2a" stroke-width="0.5" stroke-linejoin="round"/><path d="M173.05 259.6V316.7" stroke="#2a2a2a" stroke-width="0.8" fill="none"/><path d="M96.5 401.8 L97 400.6 L97.5 399.2 L98 398.2 L98.5 397.4 L99 396.7 L99.5 396 L100 395.2 L100.5 394.5 L101 393.8 L101.5 393.1 L102 392.4 L102.5 391.7 L103 391 L103.5 390.3 L104 389.7 L104.5 389 L105 388.3 L105.5 387.6 L106 387 L106.5 386.3 L107 385.6 L107.5 384.9 L108 384.2 L108.5 383.6 L109 382.9 L109.5 382.3 L110 381.6 L110.5 381 L111 380.4 L111.5 379.7 L112 379.1 L112.5 378.5 L113 377.8 L113.5 377.2 L114 376.6 L114.5 376 L115 375.5 L115.5 374.9 L116 374.3 L116.5 373.7 L117 373.1 L117.5 372.5 L118 372 L118.5 371.4 L119 370.9 L119.5 370.3 L120 369.8 L120.5 369.3 L121 368.8 L121.5 368.3 L122 367.9 L122.5 367.5 L123 367 L123.5 366.5 L124 366.1 L124.5 365.6 L125 365.2 L125.5 364.8 L126 364.4 L126.5 363.9 L127 363.5 L127.5 363.1 L128 362.7 L128.5 362.3 L129 361.9 L129.5 361.5 L130 361.2 L130.5 360.8 L131 360.4 L131.5 360 L132 359.7 L132.5 359.3 L133 359 L133.5 358.6 L134 358.3 L134.5 357.9 L135 357.6 L135.5 357.2 L136 356.9 L136.5 356.6 L137 356.3 L137.5 356 L138 355.7 L138.5 355.4 L139 355.1 L139.5 354.8 L140 354.5 L140.5 354.2 L141 353.9 L141.5 353.6 L142 353.4 L142.5 353.1 L143 352.8 L143.5 352.6 L144 352.3 L144.5 352.1 L145 351.8 L145.5 351.6 L146 351.4 L146.5 351.2 L147 351 L147.5 350.8 L148 350.6 L148.5 350.4 L149 350.2 L149.5 350 L150 349.8 L150.5 349.7 L151 349.5 L151.5 349.3 L152 349.2 L152.5 349 L153 348.9 L153.5 348.7 L154 348.6 L154.5 348.4 L155 348.3 L155.5 348.1 L156 348 L156.5 347.9 L157 347.7 L157.5 347.6 L158 347.5 L158.5 347.4 L159 347.2 L159.5 347.1 L160 346.9 L160.5 346.6 L161 346.3 L161.5 346 L162 345.6 L162.5 345.2 L163 344.8 L163.5 344.3 L164 343.8 L164.5 343.3 L165 342.7 L165.5 342.2 L166 341.6 L166.5 341 L167 340.3 L167.5 339.5 L168 338.8 L168.5 337.6 L169 336.3 L169.5 334.9 L170 332.8 L170.5 330.8 L171 327.9 L171.5 324.4M174.5 323.4 L175 327.3 L175.5 330.2 L176 332.6 L176.5 334.4 L177 336.1 L177.5 337.4 L178 338.4 L178.5 339.4 L179 340.1 L179.5 340.8 L180 341.4 L180.5 342 L181 342.6 L181.5 343.1 L182 343.6 L182.5 344.1 L183 344.6 L183.5 345.1 L184 345.5 L184.5 345.9 L185 346.2 L185.5 346.5 L186 346.8 L186.5 347 L187 347.1 L187.5 347.3 L188 347.4 L188.5 347.5 L189 347.6 L189.5 347.8 L190 347.9 L190.5 348 L191 348.1 L191.5 348.3 L192 348.4 L192.5 348.6 L193 348.7 L193.5 348.8 L194 349 L194.5 349.2 L195 349.3 L195.5 349.5 L196 349.6 L196.5 349.8 L197 350 L197.5 350.2 L198 350.4 L198.5 350.6 L199 350.8 L199.5 351 L200 351.2 L200.5 351.4 L201 351.6 L201.5 351.9 L202 352.1 L202.5 352.3 L203 352.6 L203.5 352.9 L204 353.1 L204.5 353.4 L205 353.7 L205.5 353.9 L206 354.2 L206.5 354.5 L207 354.8 L207.5 355.1 L208 355.4 L208.5 355.7 L209 356 L209.5 356.3 L210 356.6 L210.5 357 L211 357.3 L211.5 357.6 L212 358 L212.5 358.3 L213 358.7 L213.5 359 L214 359.4 L214.5 359.7 L215 360.1 L215.5 360.4 L216 360.8 L216.5 361.2 L217 361.6 L217.5 362 L218 362.4 L218.5 362.8 L219 363.2 L219.5 363.6 L220 364 L220.5 364.4 L221 364.8 L221.5 365.3 L222 365.7 L222.5 366.1 L223 366.6 L223.5 367.1 L224 367.5 L224.5 367.9 L225 368.4 L225.5 368.9 L226 369.4 L226.5 369.9 L227 370.4 L227.5 371 L228 371.5 L228.5 372.1 L229 372.6 L229.5 373.2 L230 373.8 L230.5 374.4 L231 375 L231.5 375.6 L232 376.2 L232.5 376.8 L233 377.4 L233.5 378 L234 378.6 L234.5 379.2 L235 379.9 L235.5 380.5 L236 381.1 L236.5 381.8 L237 382.4 L237.5 383.1 L238 383.7 L238.5 384.4 L239 385.1 L239.5 385.8 L240 386.4 L240.5 387.1 L241 387.8 L241.5 388.4 L242 389.1 L242.5 389.8 L243 390.5 L243.5 391.2 L244 391.8 L244.5 392.5 L245 393.2 L245.5 393.9 L246 394.6 L246.5 395.3 L247 396.1 L247.5 396.8 L248 397.6 L248.5 398.5 L249 399.8 L249.5 400.8" fill="none" stroke="#3c3c3c" stroke-width="0.45" stroke-linejoin="round"/></g></g><path d="M62.5 261.5V413.2L201.8 440.5L283 392.9" fill="none" stroke="#5a5a5a" stroke-width="0.8"/><path d="M63.1 400.6h-3.4M63.1 375.3h-3.4M63.1 350h-3.4M63.1 324.7h-3.4M63.1 299.4h-3.4M63.1 274.1h-3.4M63.1 413.2l-2 1.6M201.8 440.5l2.6 0.6M97.8 420l-2 1.6M222.1 428.6l2.6 0.6M132.5 426.9l-2 1.6M242.4 416.7l2.6 0.6M167.1 433.7l-2 1.6M262.7 404.8l2.6 0.6M201.8 440.5l-2 1.6M283 392.9l2.6 0.6" fill="none" stroke="#5a5a5a" stroke-width="0.8"/><g font-family='"Liberation Sans", Arial, sans-serif' fill="#000" stroke="#000" stroke-width="0.12" font-size="13"><text x="29.4" y="404.6" text-anchor="start" font-size="13">10<tspan font-size="9.6" dy="-3.9">-4</tspan></text><text x="29.4" y="379.3" text-anchor="start" font-size="13">10<tspan font-size="9.6" dy="-3.9">-2</tspan></text><text x="29.4" y="354" text-anchor="start" font-size="13">10<tspan font-size="9.6" dy="-3.9">0</tspan></text><text x="29.4" y="328.7" text-anchor="start" font-size="13">10<tspan font-size="9.6" dy="-3.9">2</tspan></text><text x="29.4" y="303.4" text-anchor="start" font-size="13">10<tspan font-size="9.6" dy="-3.9">4</tspan></text><text x="29.4" y="278.1" text-anchor="start" font-size="13">10<tspan font-size="9.6" dy="-3.9">6</tspan></text><text x="49.4" y="428.9" text-anchor="middle" font-size="13.8">-2</text><text x="84.7" y="436.2" text-anchor="middle" font-size="13.8">-1</text><text x="120.9" y="442.7" text-anchor="middle" font-size="13.8">0</text><text x="158.4" y="448.6" text-anchor="middle" font-size="13.8">1</text><text x="195.1" y="456.8" text-anchor="middle" font-size="13.8">2</text><text x="219.7" y="456.8" text-anchor="middle" font-size="13.8">-2</text><text x="240.3" y="441.2" text-anchor="middle" font-size="13.8">-1</text><text x="263.6" y="429" text-anchor="middle" font-size="13.8">0</text><text x="284.7" y="415.9" text-anchor="middle" font-size="13.8">1</text><text x="304.8" y="402.7" text-anchor="middle" font-size="13.8">2</text><text transform="translate(15.4 338.4) rotate(-90)" text-anchor="middle" font-size="14">Intensity</text></g><text x="114" y="466" text-anchor="middle" font-family='"Liberation Serif", "DejaVu Serif", serif' font-style="italic" font-size="15.3" fill="#1a1a1a" stroke="#1a1a1a" stroke-width="0.2" textLength="22.4" lengthAdjust="spacing">y/λ</text><text x="281.4" y="443" text-anchor="middle" font-family='"Liberation Serif", "DejaVu Serif", serif' font-style="italic" font-size="15.3" fill="#1a1a1a" stroke="#1a1a1a" stroke-width="0.2" textLength="22.4" lengthAdjust="spacing">x/λ</text><linearGradient id="cbg" x1="0" y1="0" x2="0" y2="1"><stop offset="0" stop-color="#ffffff"/><stop offset="0.07" stop-color="#fff3d0"/><stop offset="0.17" stop-color="#fcc860"/><stop offset="0.22" stop-color="#f5a030"/><stop offset="0.3" stop-color="#e8681c"/><stop offset="0.38" stop-color="#c04a18"/><stop offset="0.46" stop-color="#95504a"/><stop offset="0.54" stop-color="#6a5a98"/><stop offset="0.59" stop-color="#3f5cc4"/><stop offset="0.63" stop-color="#2a60e0"/><stop offset="0.7" stop-color="#4278e7"/><stop offset="0.8" stop-color="#8fb1f1"/><stop offset="0.9" stop-color="#d6e4fb"/><stop offset="0.95" stop-color="#f1f6fe"/><stop offset="1" stop-color="#ffffff"/></linearGradient><rect x="300.9" y="252.4" width="9.7" height="124.8" fill="url(#cbg)" stroke="#9a9a9a" stroke-width="0.7"/><path d="M310.6 266.3h-1.8M310.6 280.1h-1.8M310.6 294h-1.8M310.6 307.9h-1.8M310.6 321.7h-1.8M310.6 335.6h-1.8M310.6 349.5h-1.8M310.6 363.3h-1.8" stroke="#555" stroke-width="0.6"/><g font-family='"Liberation Sans", Arial, sans-serif' fill="#000" stroke="#000" stroke-width="0.12"><text x="316.3" y="255.7" text-anchor="start" font-size="13">10<tspan font-size="9.6" dy="-3.9">7</tspan></text><text x="316.3" y="381.2" text-anchor="start" font-size="13">10<tspan font-size="9.6" dy="-3.9">-5</tspan></text></g><g font-family='"Liberation Sans", Arial, sans-serif' fill="#000" stroke="#000" stroke-width="0.12"><path d="M442.5 35.6h3.4M442.5 47.9h3.4M442.5 60.2h3.4M442.5 72.5h3.4M442.5 84.8h3.4M442.5 97.1h3.4M442.5 109.5h3.4M442.5 121.8h3.4M442.5 134.1h3.4M442.5 146.4h3.4M442.5 158.7h3.4M442.5 171h3.4M442.5 183.3h3.4" stroke="#111" stroke-width="0.9" fill="none"/><path d="M442.5 44.2h1.6M442.5 42h1.6M442.5 40.5h1.6M442.5 39.3h1.6M442.5 38.3h1.6M442.5 37.5h1.6M442.5 36.8h1.6M442.5 36.2h1.6M442.5 56.5h1.6M442.5 54.3h1.6M442.5 52.8h1.6M442.5 51.6h1.6M442.5 50.6h1.6M442.5 49.8h1.6M442.5 49.1h1.6M442.5 48.5h1.6M442.5 68.8h1.6M442.5 66.7h1.6M442.5 65.1h1.6M442.5 63.9h1.6M442.5 62.9h1.6M442.5 62.1h1.6M442.5 61.4h1.6M442.5 60.8h1.6M442.5 81.1h1.6M442.5 79h1.6M442.5 77.4h1.6M442.5 76.2h1.6M442.5 75.3h1.6M442.5 74.4h1.6M442.5 73.7h1.6M442.5 73.1h1.6M442.5 93.4h1.6M442.5 91.3h1.6M442.5 89.7h1.6M442.5 88.5h1.6M442.5 87.6h1.6M442.5 86.7h1.6M442.5 86h1.6M442.5 85.4h1.6M442.5 105.7h1.6M442.5 103.6h1.6M442.5 102h1.6M442.5 100.8h1.6M442.5 99.9h1.6M442.5 99h1.6M442.5 98.3h1.6M442.5 97.7h1.6M442.5 118.1h1.6M442.5 115.9h1.6M442.5 114.3h1.6M442.5 113.2h1.6M442.5 112.2h1.6M442.5 111.4h1.6M442.5 110.6h1.6M442.5 110h1.6M442.5 130.4h1.6M442.5 128.2h1.6M442.5 126.7h1.6M442.5 125.5h1.6M442.5 124.5h1.6M442.5 123.7h1.6M442.5 123h1.6M442.5 122.3h1.6M442.5 142.7h1.6M442.5 140.5h1.6M442.5 139h1.6M442.5 137.8h1.6M442.5 136.8h1.6M442.5 136h1.6M442.5 135.3h1.6M442.5 134.6h1.6M442.5 155h1.6M442.5 152.8h1.6M442.5 151.3h1.6M442.5 150.1h1.6M442.5 149.1h1.6M442.5 148.3h1.6M442.5 147.6h1.6M442.5 146.9h1.6M442.5 167.3h1.6M442.5 165.1h1.6M442.5 163.6h1.6M442.5 162.4h1.6M442.5 161.4h1.6M442.5 160.6h1.6M442.5 159.9h1.6M442.5 159.2h1.6M442.5 179.6h1.6M442.5 177.4h1.6M442.5 175.9h1.6M442.5 174.7h1.6M442.5 173.7h1.6M442.5 172.9h1.6M442.5 172.2h1.6M442.5 171.6h1.6" stroke="#111" stroke-width="0.5" fill="none"/><text x="416.5" y="39.4" text-anchor="start" font-size="13">10<tspan font-size="9.6" dy="-3.5">0</tspan></text><text x="414.5" y="76.3" text-anchor="start" font-size="13">10<tspan font-size="9.6" dy="-3.5">-3</tspan></text><text x="414.5" y="113.3" text-anchor="start" font-size="13">10<tspan font-size="9.6" dy="-3.5">-6</tspan></text><text x="414.5" y="150.2" text-anchor="start" font-size="13">10<tspan font-size="9.6" dy="-3.5">-9</tspan></text><text x="412.5" y="187.1" text-anchor="start" font-size="13">10<tspan font-size="9.6" dy="-3.5">-12</tspan></text><path d="M450.9 183.5v-3.4M491.9 183.5v-3.4M532.9 183.5v-3.4M573.9 183.5v-3.4M614.9 183.5v-3.4" stroke="#111" stroke-width="0.8" fill="none"/><path d="M471.4 183.5v-2.0M512.4 183.5v-2.0M553.4 183.5v-2.0M594.4 183.5v-2.0" stroke="#111" stroke-width="0.8" fill="none"/><text x="450.9" y="202" text-anchor="middle" font-size="13.8">-2</text><text x="491.9" y="202" text-anchor="middle" font-size="13.8">-1</text><text x="532.9" y="202" text-anchor="middle" font-size="13.8">0</text><text x="573.9" y="202" text-anchor="middle" font-size="13.8">1</text><text x="614.9" y="202" text-anchor="middle" font-size="13.8">2</text><text transform="translate(402.9 103) rotate(-90)" text-anchor="middle" font-size="14">Normalized intensity</text></g><text x="532.6" y="220.2" text-anchor="middle" font-family='"Liberation Serif", "DejaVu Serif", serif' font-style="italic" font-size="15.3" fill="#1a1a1a" stroke="#1a1a1a" stroke-width="0.2" textLength="22.4" lengthAdjust="spacing">x/λ</text><clipPath id="cc"><rect x="442.5" y="23.5" width="181.0" height="160.0"/></clipPath><polyline clip-path="url(#cc)" points="448,182.9 448.8,181.7 449.6,180.5 450.5,179.3 451.3,178.2 452.1,177 453,175.8 453.8,174.7 454.7,173.5 455.5,172.4 456.4,171.2 457.3,170.1 458.1,169 459,167.8 459.9,166.7 460.8,165.6 461.7,164.5 462.6,163.4 463.5,162.3 464.5,161.2 465.4,160.1 466.3,159 467.3,157.9 468.2,156.8 469.2,155.8 470.1,154.7 471.1,153.6 472.1,152.6 473,151.5 474,150.5 475,149.5 476,148.4 477,147.4 478.1,146.4 479.1,145.4 480.1,144.4 481.2,143.4 482.2,142.5 483.3,141.5 484.3,140.5 485.4,139.6 486.5,138.7 487.6,137.8 488.7,136.9 489.9,136 491,135.1 492.2,134.3 493.4,133.5 494.5,132.6 495.7,131.9 497,131.1 498.2,130.4 499.4,129.6 500.7,128.9 501.9,128.3 503.2,127.6 504.5,126.9 505.8,126.3 507.1,125.7 508.4,125.1 509.6,124.4 510.9,123.8 512.2,123.2 513.5,122.5 514.8,121.8 516,121.1 517.3,120.4 518.5,119.7 519.7,118.9 520.8,118 522,117.2 523,116.2 524,115.1 524.9,114 525.7,112.9 526.5,111.6 527.1,110.4 527.7,109 528.3,107.7 528.8,106.4 529.2,105 529.6,103.6 529.9,102.2 530.2,100.8 530.4,99.4 530.7,98 531,96.6 531.3,95.2 531.5,93.8 531.6,92.3 531.8,90.9 531.9,89.5 532,88 532.1,86.6 532.2,85.2 532.3,83.7 532.3,82.3 532.4,80.9 532.4,79.4 532.5,78 532.5,76.6 532.5,75.1 532.6,73.7 532.6,72.3 532.6,70.8 532.6,69.4 532.6,68 532.6,66.5 532.6,65.1 532.6,63.7 532.6,62.2 532.6,60.8 532.6,59.4 532.6,57.9 532.6,56.5 532.6,55.1 532.6,53.6 532.6,52.2 532.6,50.8 532.6,49.3 532.6,47.9 532.6,46.5 532.6,45 532.6,43.6 532.6,42.2 532.6,40.7 532.6,39.3 532.6,37.9 532.6,36.4 532.6,35 532.7,36.4 532.7,37.9 532.7,39.3 532.7,40.7 532.7,42.2 532.7,43.6 532.7,45 532.7,46.5 532.7,47.9 532.7,49.3 532.7,50.8 532.7,52.2 532.7,53.6 532.7,55.1 532.7,56.5 532.7,57.9 532.7,59.4 532.7,60.8 532.7,62.2 532.7,63.7 532.7,65.1 532.7,66.5 532.7,68 532.7,69.4 532.7,70.8 532.7,72.3 532.7,73.7 532.8,75.1 532.8,76.6 532.8,78 532.9,79.4 532.9,80.9 533,82.3 533,83.7 533.1,85.2 533.2,86.6 533.3,88 533.4,89.5 533.5,90.9 533.7,92.3 533.8,93.8 534,95.2 534.3,96.6 534.6,98 534.9,99.4 535.1,100.8 535.4,102.2 535.7,103.6 536.1,105 536.5,106.4 537,107.7 537.6,109 538.2,110.4 538.8,111.6 539.6,112.9 540.4,114 541.3,115.1 542.3,116.2 543.3,117.2 544.5,118 545.6,118.9 546.8,119.7 548,120.4 549.3,121.1 550.5,121.8 551.8,122.5 553.1,123.2 554.4,123.8 555.7,124.4 556.9,125.1 558.2,125.7 559.5,126.3 560.8,126.9 562.1,127.6 563.4,128.3 564.6,128.9 565.9,129.6 567.1,130.4 568.3,131.1 569.6,131.9 570.8,132.6 571.9,133.5 573.1,134.3 574.3,135.1 575.4,136 576.6,136.9 577.7,137.8 578.8,138.7 579.9,139.6 581,140.5 582,141.5 583.1,142.5 584.1,143.4 585.2,144.4 586.2,145.4 587.2,146.4 588.3,147.4 589.3,148.4 590.3,149.5 591.3,150.5 592.3,151.5 593.2,152.6 594.2,153.6 595.2,154.7 596.1,155.8 597.1,156.8 598,157.9 599,159 599.9,160.1 600.8,161.2 601.8,162.3 602.7,163.4 603.6,164.5 604.5,165.6 605.4,166.7 606.3,167.8 607.2,169 608,170.1 608.9,171.2 609.8,172.4 610.6,173.5 611.5,174.7 612.3,175.8 613.2,177 614,178.2 614.8,179.3 615.7,180.5 616.5,181.7 617.3,182.9" fill="none" stroke="#1f78f0" stroke-width="1.5" stroke-linejoin="round"/><path d="M442.5 23.5H623.5V183.5" fill="none" stroke="#6e6e6e" stroke-width="0.9"/><path d="M442.5 23.5V183.5H623.5" fill="none" stroke="#111" stroke-width="1.1"/><path d="M535 61H545" stroke="#f00" stroke-width="1.9" fill="none"/><path d="M549.8 61l-8.6 -4.7l2.4 4.7l-2.4 4.7z" fill="#f00"/><g font-family='"Liberation Serif", "DejaVu Serif", serif' font-style="italic" fill="#f00" stroke="#f00" stroke-width="0.3"><text x="550.6" y="65.6" font-size="15" textLength="49" lengthAdjust="spacingAndGlyphs">I(x)~|x|</text><text x="601" y="61.4" font-size="10.5" textLength="18.2" lengthAdjust="spacingAndGlyphs">−<tspan font-style="normal">2</tspan>l</text></g><path d="M504.2 134.2V144" stroke="#000" stroke-width="1.7" fill="none"/><path d="M504.2 149.6l-4.8 -8.4l4.8 2.3l4.8 -2.3z" fill="#000"/><g font-family='"Liberation Serif", "DejaVu Serif", serif' font-style="italic" fill="#1a1a1a" stroke="#1a1a1a" stroke-width="0.25"><text x="476.4" y="165.4" font-size="14.5" textLength="40.4" lengthAdjust="spacingAndGlyphs">I(x)~e</text><path d="M519.2 154.2H524.6M525.2 154.2H543.6" stroke="#1a1a1a" stroke-width="0.9"/><text x="529" y="151.4" font-size="11.5">x<tspan font-size="8" dy="-3.6" font-style="normal">2</tspan></text><text x="525.8" y="163.9" font-size="11"><tspan font-style="normal" font-size="10">2</tspan>σ<tspan font-size="8" dy="-3.6" font-style="normal">2</tspan></text></g><g font-family='"Liberation Sans", Arial, sans-serif' fill="#000" stroke="#000" stroke-width="0.12"><path d="M443.3 407.1h1.8M443.3 401.4h1.8M443.3 397.4h1.8M443.3 394.4h1.8M443.3 391.8h1.8M443.3 389.7h1.8M443.3 387.8h1.8M443.3 386.2h1.8M443.3 375.1h1.8M443.3 369.5h1.8M443.3 365.5h1.8M443.3 362.4h1.8M443.3 359.8h1.8M443.3 357.7h1.8M443.3 355.8h1.8M443.3 354.2h1.8M443.3 343.1h1.8M443.3 337.5h1.8M443.3 333.5h1.8M443.3 330.4h1.8M443.3 327.9h1.8M443.3 325.7h1.8M443.3 323.9h1.8M443.3 322.2h1.8M443.3 311.1h1.8M443.3 305.5h1.8M443.3 301.5h1.8M443.3 298.4h1.8M443.3 295.9h1.8M443.3 293.8h1.8M443.3 291.9h1.8M443.3 290.3h1.8M443.3 279.2h1.8M443.3 273.5h1.8M443.3 269.5h1.8M443.3 266.5h1.8M443.3 263.9h1.8M443.3 261.8h1.8M443.3 259.9h1.8M443.3 258.3h1.8" stroke="#111" stroke-width="0.6" fill="none"/><path d="M443.3 416.7h2.8M443.3 384.7h2.8M443.3 352.8h2.8M443.3 320.8h2.8M443.3 288.8h2.8M443.3 256.8h2.8" stroke="#333" stroke-width="0.8" fill="none"/><text x="416.5" y="420.7" text-anchor="start" font-size="13">10<tspan font-size="9.6" dy="-3.9">0</tspan></text><text x="416.5" y="356.8" text-anchor="start" font-size="13">10<tspan font-size="9.6" dy="-3.9">2</tspan></text><text x="416.5" y="292.8" text-anchor="start" font-size="13">10<tspan font-size="9.6" dy="-3.9">4</tspan></text><path d="M451 416.7v-3.4M492 416.7v-3.4M533 416.7v-3.4M574 416.7v-3.4M615 416.7v-3.4" stroke="#111" stroke-width="0.8" fill="none"/><path d="M471.5 416.7v-2.0M512.5 416.7v-2.0M553.5 416.7v-2.0M594.5 416.7v-2.0" stroke="#111" stroke-width="0.8" fill="none"/><text x="451" y="435.6" text-anchor="middle" font-size="13.8">-2</text><text x="492" y="435.6" text-anchor="middle" font-size="13.8">-1</text><text x="533" y="435.6" text-anchor="middle" font-size="13.8">0</text><text x="574" y="435.6" text-anchor="middle" font-size="13.8">1</text><text x="615" y="435.6" text-anchor="middle" font-size="13.8">2</text></g><text transform="translate(406.6 332.3) rotate(-90)" text-anchor="middle" font-family='"Liberation Serif", "DejaVu Serif", serif' font-size="15" fill="#222" textLength="84" lengthAdjust="spacingAndGlyphs">|d(ln <tspan font-style="italic">I</tspan>)/d<tspan font-style="italic">x</tspan>|<tspan font-size="11.5">∗</tspan><tspan font-style="italic">λ</tspan></text><text x="532.6" y="453.8" text-anchor="middle" font-family='"Liberation Serif", "DejaVu Serif", serif' font-style="italic" font-size="15.3" fill="#1a1a1a" stroke="#1a1a1a" stroke-width="0.2" textLength="22.4" lengthAdjust="spacing">x/λ</text><clipPath id="cd"><rect x="443.3" y="256.2" width="180.3" height="160.5"/></clipPath><polyline clip-path="url(#cd)" points="442.8,381.5 443.9,381.7 445.1,381.9 446.2,382 447.3,382.2 448.5,382.4 449.6,382.6 450.7,382.8 451.8,383 453,383.2 454.1,383.4 455.2,383.6 456.4,383.8 457.5,384 458.6,384.2 459.8,384.4 460.9,384.6 462,384.8 463.2,385.1 464.3,385.3 465.4,385.5 466.5,385.7 467.7,386 468.8,386.2 469.9,386.5 471.1,386.7 472.2,387 473.3,387.2 474.5,387.5 475.6,387.8 476.7,388.1 477.8,388.3 479,388.6 480.1,388.9 481.2,389.2 482.4,389.5 483.5,389.8 484.6,390.2 485.8,390.5 486.9,390.8 488,391.2 489.2,391.5 490.3,391.9 491.4,392.3 492.5,392.6 493.7,393 494.8,393.4 495.9,393.9 497.1,394.3 498.2,394.7 499.3,395.2 500.5,395.7 501.6,396.2 502.7,396.7 503.9,397.2 505,397.7 506.1,398.3 507.2,398.9 508.4,399.5 509.5,400.2 511.3,399.1 513,398 514.5,396.8 516,395.7 517.3,394.6 518.5,393.5 519.6,392.4 520.7,391.3 521.6,390.1 522.5,389 523.3,387.9 524,386.8 524.7,385.7 525.4,384.6 526,383.4 526.5,382.3 527,381.2 527.5,380.1 527.9,379 528.3,377.9 528.7,376.7 529,375.6 529.3,374.5 529.6,373.4 529.9,372.3 530.1,371.2 530.3,370 530.5,368.9 530.7,367.8 530.9,366.7 531.1,365.6 531.2,364.5 531.3,363.3 531.5,362.2 531.6,361.1 531.7,360 531.8,358.9 531.9,357.8 532,356.6 532.1,355.5 532.1,354.4 532.2,353.3 532.3,352.2 532.3,351.1 532.4,349.9 532.4,348.8 532.5,347.7 532.5,346.6 532.5,345.5 532.6,344.4 532.6,343.2 532.6,342.1 532.7,341 532.7,339.9 532.7,338.8 532.7,337.7 532.8,336.5 532.8,335.4 532.8,334.3 532.8,333.2 532.8,332.1 532.8,331 532.9,329.8 532.9,328.7 532.9,327.6 532.9,326.5 532.9,325.4 532.9,324.3 532.9,323.1 532.9,322 532.9,320.9 532.9,319.8 532.9,318.7 532.9,317.6 532.9,316.4 532.9,315.3 533,314.2 533,313.1 533,312 533,310.9 533,309.7 533,308.6 533,307.5 533,306.4 533,305.3 533,304.2 533,303 533,301.9 533,300.8 533,299.7 533,298.6 533,297.5 533,296.3 533,295.2 533,294.1 533,293 533,291.9 533,290.7 533,289.6 533,288.5 533,287.4 533,286.3 533,285.2 533,284 533,282.9 533,281.8 533,280.7 533,279.6 533,278.5 533,277.3 533,276.2 533,275.1 533,274 533,272.9 533,271.8 533,270.6 533,270.2 533,270.6 533,271.8 533,272.9 533,274 533,275.1 533,276.2 533,277.3 533,278.5 533,279.6 533,280.7 533,281.8 533,282.9 533,284 533,285.2 533,286.3 533,287.4 533,288.5 533,289.6 533,290.7 533,291.9 533,293 533,294.1 533,295.2 533,296.3 533,297.5 533,298.6 533,299.7 533,300.8 533,301.9 533,303 533,304.2 533,305.3 533,306.4 533,307.5 533,308.6 533,309.7 533,310.9 533,312 533,313.1 533,314.2 533.1,315.3 533.1,316.4 533.1,317.6 533.1,318.7 533.1,319.8 533.1,320.9 533.1,322 533.1,323.1 533.1,324.3 533.1,325.4 533.1,326.5 533.1,327.6 533.1,328.7 533.1,329.8 533.2,331 533.2,332.1 533.2,333.2 533.2,334.3 533.2,335.4 533.2,336.5 533.3,337.7 533.3,338.8 533.3,339.9 533.3,341 533.4,342.1 533.4,343.2 533.4,344.4 533.5,345.5 533.5,346.6 533.5,347.7 533.6,348.8 533.6,349.9 533.7,351.1 533.7,352.2 533.8,353.3 533.9,354.4 533.9,355.5 534,356.6 534.1,357.8 534.2,358.9 534.3,360 534.4,361.1 534.5,362.2 534.7,363.3 534.8,364.5 534.9,365.6 535.1,366.7 535.3,367.8 535.5,368.9 535.7,370 535.9,371.2 536.1,372.3 536.4,373.4 536.7,374.5 537,375.6 537.3,376.7 537.7,377.9 538.1,379 538.5,380.1 539,381.2 539.5,382.3 540,383.4 540.6,384.6 541.3,385.7 542,386.8 542.7,387.9 543.5,389 544.4,390.1 545.3,391.3 546.4,392.4 547.5,393.5 548.7,394.6 550,395.7 551.5,396.8 553,398 554.7,399.1 556.5,400.2 557.6,399.5 558.8,398.9 559.9,398.3 561,397.7 562.1,397.2 563.3,396.7 564.4,396.2 565.5,395.7 566.7,395.2 567.8,394.7 568.9,394.3 570.1,393.9 571.2,393.4 572.3,393 573.5,392.6 574.6,392.3 575.7,391.9 576.8,391.5 578,391.2 579.1,390.8 580.2,390.5 581.4,390.2 582.5,389.8 583.6,389.5 584.8,389.2 585.9,388.9 587,388.6 588.2,388.3 589.3,388.1 590.4,387.8 591.5,387.5 592.7,387.2 593.8,387 594.9,386.7 596.1,386.5 597.2,386.2 598.3,386 599.5,385.7 600.6,385.5 601.7,385.3 602.8,385.1 604,384.8 605.1,384.6 606.2,384.4 607.4,384.2 608.5,384 609.6,383.8 610.8,383.6 611.9,383.4 613,383.2 614.2,383 615.3,382.8 616.4,382.6 617.5,382.4 618.7,382.2 619.8,382 620.9,381.9 622.1,381.7 623.2,381.5" fill="none" stroke="#55b540" stroke-width="1.4" stroke-linejoin="round"/><path d="M443.3 256.2H623.6V416.7" fill="none" stroke="#4e4e4e" stroke-width="0.9"/><path d="M443.3 256.2V416.7H623.6" fill="none" stroke="#3c3c3c" stroke-width="1.0"/><path d="M535.1 299.6H545" stroke="#f00" stroke-width="1.9" fill="none"/><path d="M549.9 299.6l-8.6 -4.7l2.4 4.7l-2.4 4.7z" fill="#f00"/><g font-family='"Liberation Serif", "DejaVu Serif", serif' fill="#f00" stroke="#f00" stroke-width="0.22" font-size="11.4"><path d="M555.5 284.7V311.4M589.1 284.7V311.4" stroke="#f00" stroke-width="1.1"/><path d="M557.4 297.8H587.7M605.2 297.8H617.9M594.6 296.4H601.8M594.6 299.2H601.8" stroke="#f00" stroke-width="0.9"/><text x="557.7" y="293" textLength="29.5" lengthAdjust="spacingAndGlyphs">d(ln <tspan font-style="italic">I</tspan>)</text><text x="566.5" y="308.5" textLength="11.4" lengthAdjust="spacingAndGlyphs">d<tspan font-style="italic">x</tspan></text><text x="607.4" y="293" textLength="8.2" lengthAdjust="spacingAndGlyphs">2<tspan font-style="italic">l</tspan></text><text x="605.9" y="308.5" textLength="11.4" lengthAdjust="spacingAndGlyphs">|<tspan font-style="italic">x</tspan>|</text></g><path d="M482.4 381.2V372" stroke="#000" stroke-width="1.7" fill="none"/><path d="M482.4 366.6l-4.7 8.2l4.7 -2.2l4.7 2.2z" fill="#000"/><g font-family='"Liberation Serif", "DejaVu Serif", serif' fill="#1a1a1a" stroke="#1a1a1a" stroke-width="0.22" font-size="11.4"><path d="M455.5 332.1V359.4M489 332.1V359.4" stroke="#222" stroke-width="1.1"/><path d="M457.5 345.4H487.7M505.2 345.4H517.9M494.3 344H501.5M494.3 346.8H501.5" stroke="#222" stroke-width="0.9"/><text x="457.7" y="341" textLength="29.6" lengthAdjust="spacingAndGlyphs">d(ln <tspan font-style="italic">I</tspan>)</text><text x="466.7" y="355.7" textLength="11.2" lengthAdjust="spacingAndGlyphs">d<tspan font-style="italic">x</tspan></text><text x="505.7" y="341" textLength="11.6" lengthAdjust="spacingAndGlyphs">|<tspan font-style="italic">x</tspan>|</text><text x="505.7" y="355.7" font-style="italic">σ<tspan font-size="8" dy="-3.6" font-style="normal">2</tspan></text></g><polygon points="83.8,614.9 129.2,536.7 220,536.7 265.4,614.9 220,693.1 129.2,693.1" fill="#d8d8d8" stroke="#9b9b9b" stroke-width="0.8"/><g fill="#606060" stroke="none"><circle cx="92.1" cy="611.8" r="4.42"/><circle cx="92.1" cy="618" r="4.42"/><circle cx="99.8" cy="626.3" r="4.42"/><circle cx="100.9" cy="632" r="4.42"/><circle cx="107.5" cy="640.9" r="4.42"/><circle cx="109.7" cy="646" r="4.42"/><circle cx="115.2" cy="655.5" r="4.42"/><circle cx="118.5" cy="660" r="4.42"/><circle cx="122.9" cy="670.2" r="4.42"/><circle cx="127.3" cy="674" r="4.42"/><circle cx="130.6" cy="684.8" r="4.42"/><circle cx="136.1" cy="687.9" r="4.42"/><circle cx="100.9" cy="597.8" r="4.42"/><circle cx="99.8" cy="603.5" r="4.42"/><circle cx="108.6" cy="612.3" r="4.42"/><circle cx="108.6" cy="617.5" r="4.42"/><circle cx="116.3" cy="626.9" r="4.42"/><circle cx="117.4" cy="631.5" r="4.42"/><circle cx="124" cy="641.5" r="4.42"/><circle cx="126.2" cy="645.4" r="4.42"/><circle cx="131.7" cy="656.1" r="4.42"/><circle cx="135" cy="659.4" r="4.42"/><circle cx="139.4" cy="670.8" r="4.42"/><circle cx="143.8" cy="673.3" r="4.42"/><circle cx="147.1" cy="685.4" r="4.42"/><circle cx="152.6" cy="687.3" r="4.42"/><circle cx="109.7" cy="583.8" r="4.42"/><circle cx="107.5" cy="588.9" r="4.42"/><circle cx="117.4" cy="598.3" r="4.42"/><circle cx="116.3" cy="602.9" r="4.42"/><circle cx="125.1" cy="612.9" r="4.42"/><circle cx="125.1" cy="616.9" r="4.42"/><circle cx="132.8" cy="627.5" r="4.42"/><circle cx="133.9" cy="630.9" r="4.42"/><circle cx="140.4" cy="642.1" r="4.42"/><circle cx="142.8" cy="644.8" r="4.42"/><circle cx="148.1" cy="656.8" r="4.42"/><circle cx="151.6" cy="658.8" r="4.42"/><circle cx="155.9" cy="671.4" r="4.42"/><circle cx="160.3" cy="672.7" r="4.42"/><circle cx="163.6" cy="686" r="4.42"/><circle cx="169.1" cy="686.7" r="4.42"/><circle cx="118.5" cy="569.8" r="4.42"/><circle cx="115.2" cy="574.3" r="4.42"/><circle cx="126.2" cy="584.4" r="4.42"/><circle cx="124" cy="588.3" r="4.42"/><circle cx="133.9" cy="598.9" r="4.42"/><circle cx="132.8" cy="602.3" r="4.42"/><circle cx="141.6" cy="613.5" r="4.32"/><circle cx="141.6" cy="616.3" r="4.32"/><circle cx="149.2" cy="628.1" r="4.28"/><circle cx="150.5" cy="630.3" r="4.28"/><circle cx="156.9" cy="642.8" r="4.32"/><circle cx="159.3" cy="644.2" r="4.32"/><circle cx="164.6" cy="657.4" r="4.42"/><circle cx="168.1" cy="658.1" r="4.42"/><circle cx="172.3" cy="672.1" r="4.42"/><circle cx="176.9" cy="672.1" r="4.42"/><circle cx="180.1" cy="686.7" r="4.42"/><circle cx="185.6" cy="686" r="4.42"/><circle cx="127.3" cy="555.8" r="4.42"/><circle cx="122.9" cy="559.6" r="4.42"/><circle cx="135" cy="570.4" r="4.42"/><circle cx="131.7" cy="573.7" r="4.42"/><circle cx="142.8" cy="585" r="4.42"/><circle cx="140.4" cy="587.7" r="4.42"/><circle cx="150.5" cy="599.5" r="4.28"/><circle cx="149.2" cy="601.7" r="4.28"/><circle cx="158.1" cy="614.1" r="4.16"/><circle cx="158.1" cy="615.7" r="4.16"/><circle cx="165.6" cy="628.8" r="4.16"/><circle cx="167.1" cy="629.6" r="4.16"/><circle cx="173.3" cy="643.5" r="4.28"/><circle cx="175.9" cy="643.5" r="4.28"/><circle cx="181.1" cy="658.1" r="4.42"/><circle cx="184.6" cy="657.4" r="4.42"/><circle cx="188.9" cy="672.7" r="4.42"/><circle cx="193.3" cy="671.4" r="4.42"/><circle cx="196.6" cy="687.3" r="4.42"/><circle cx="202.1" cy="685.4" r="4.42"/><circle cx="136.1" cy="541.9" r="4.42"/><circle cx="130.6" cy="545" r="4.42"/><circle cx="143.8" cy="556.5" r="4.42"/><circle cx="139.4" cy="559" r="4.42"/><circle cx="151.6" cy="571" r="4.42"/><circle cx="148.1" cy="573" r="4.42"/><circle cx="159.3" cy="585.6" r="4.32"/><circle cx="156.9" cy="587" r="4.32"/><circle cx="167.1" cy="600.2" r="4.16"/><circle cx="165.6" cy="601" r="4.16"/><circle cx="174.6" cy="614.9" r="4"/><circle cx="182.1" cy="629.6" r="4.16"/><circle cx="183.6" cy="628.8" r="4.16"/><circle cx="189.9" cy="644.2" r="4.32"/><circle cx="192.3" cy="642.8" r="4.32"/><circle cx="197.6" cy="658.8" r="4.42"/><circle cx="201.1" cy="656.8" r="4.42"/><circle cx="205.4" cy="673.3" r="4.42"/><circle cx="209.8" cy="670.8" r="4.42"/><circle cx="213.1" cy="687.9" r="4.42"/><circle cx="218.6" cy="684.8" r="4.42"/><circle cx="152.6" cy="542.5" r="4.42"/><circle cx="147.1" cy="544.4" r="4.42"/><circle cx="160.3" cy="557.1" r="4.42"/><circle cx="155.9" cy="558.4" r="4.42"/><circle cx="168.1" cy="571.7" r="4.42"/><circle cx="164.6" cy="572.4" r="4.42"/><circle cx="175.9" cy="586.3" r="4.28"/><circle cx="173.3" cy="586.3" r="4.28"/><circle cx="183.6" cy="601" r="4.16"/><circle cx="182.1" cy="600.2" r="4.16"/><circle cx="191.1" cy="615.7" r="4.16"/><circle cx="191.1" cy="614.1" r="4.16"/><circle cx="198.7" cy="630.3" r="4.28"/><circle cx="200" cy="628.1" r="4.28"/><circle cx="206.4" cy="644.8" r="4.42"/><circle cx="208.8" cy="642.1" r="4.42"/><circle cx="214.2" cy="659.4" r="4.42"/><circle cx="217.5" cy="656.1" r="4.42"/><circle cx="221.9" cy="674" r="4.42"/><circle cx="226.3" cy="670.2" r="4.42"/><circle cx="169.1" cy="543.1" r="4.42"/><circle cx="163.6" cy="543.8" r="4.42"/><circle cx="176.9" cy="557.7" r="4.42"/><circle cx="172.3" cy="557.7" r="4.42"/><circle cx="184.6" cy="572.4" r="4.42"/><circle cx="181.1" cy="571.7" r="4.42"/><circle cx="192.3" cy="587" r="4.32"/><circle cx="189.9" cy="585.6" r="4.32"/><circle cx="200" cy="601.7" r="4.28"/><circle cx="198.7" cy="599.5" r="4.28"/><circle cx="207.6" cy="616.3" r="4.32"/><circle cx="207.6" cy="613.5" r="4.32"/><circle cx="215.3" cy="630.9" r="4.42"/><circle cx="216.4" cy="627.5" r="4.42"/><circle cx="223" cy="645.4" r="4.42"/><circle cx="225.2" cy="641.5" r="4.42"/><circle cx="230.7" cy="660" r="4.42"/><circle cx="234" cy="655.5" r="4.42"/><circle cx="185.6" cy="543.8" r="4.42"/><circle cx="180.1" cy="543.1" r="4.42"/><circle cx="193.3" cy="558.4" r="4.42"/><circle cx="188.9" cy="557.1" r="4.42"/><circle cx="201.1" cy="573" r="4.42"/><circle cx="197.6" cy="571" r="4.42"/><circle cx="208.8" cy="587.7" r="4.42"/><circle cx="206.4" cy="585" r="4.42"/><circle cx="216.4" cy="602.3" r="4.42"/><circle cx="215.3" cy="598.9" r="4.42"/><circle cx="224.1" cy="616.9" r="4.42"/><circle cx="224.1" cy="612.9" r="4.42"/><circle cx="231.8" cy="631.5" r="4.42"/><circle cx="232.9" cy="626.9" r="4.42"/><circle cx="239.5" cy="646" r="4.42"/><circle cx="241.7" cy="640.9" r="4.42"/><circle cx="202.1" cy="544.4" r="4.42"/><circle cx="196.6" cy="542.5" r="4.42"/><circle cx="209.8" cy="559" r="4.42"/><circle cx="205.4" cy="556.5" r="4.42"/><circle cx="217.5" cy="573.7" r="4.42"/><circle cx="214.2" cy="570.4" r="4.42"/><circle cx="225.2" cy="588.3" r="4.42"/><circle cx="223" cy="584.4" r="4.42"/><circle cx="232.9" cy="602.9" r="4.42"/><circle cx="231.8" cy="598.3" r="4.42"/><circle cx="240.6" cy="617.5" r="4.42"/><circle cx="240.6" cy="612.3" r="4.42"/><circle cx="248.3" cy="632" r="4.42"/><circle cx="249.4" cy="626.3" r="4.42"/><circle cx="218.6" cy="545" r="4.42"/><circle cx="213.1" cy="541.9" r="4.42"/><circle cx="226.3" cy="559.6" r="4.42"/><circle cx="221.9" cy="555.8" r="4.42"/><circle cx="234" cy="574.3" r="4.42"/><circle cx="230.7" cy="569.8" r="4.42"/><circle cx="241.7" cy="588.9" r="4.42"/><circle cx="239.5" cy="583.8" r="4.42"/><circle cx="249.4" cy="603.5" r="4.42"/><circle cx="248.3" cy="597.8" r="4.42"/><circle cx="257.1" cy="618" r="4.42"/><circle cx="257.1" cy="611.8" r="4.42"/></g><path d="M92.1 611.8L92.1 618M99.8 626.3L100.9 632M107.5 640.9L109.7 646M115.2 655.5L118.5 660M122.9 670.2L127.3 674M130.6 684.8L136.1 687.9M100.9 597.8L99.8 603.5M108.6 612.3L108.6 617.5M116.3 626.9L117.4 631.5M124 641.5L126.2 645.4M131.7 656.1L135 659.4M139.4 670.8L143.8 673.3M147.1 685.4L152.6 687.3M109.7 583.8L107.5 588.9M117.4 598.3L116.3 602.9M155.9 671.4L160.3 672.7M163.6 686L169.1 686.7M118.5 569.8L115.2 574.3M126.2 584.4L124 588.3M172.3 672.1L176.9 672.1M180.1 686.7L185.6 686M127.3 555.8L122.9 559.6M135 570.4L131.7 573.7M188.9 672.7L193.3 671.4M196.6 687.3L202.1 685.4M136.1 541.9L130.6 545M143.8 556.5L139.4 559M205.4 673.3L209.8 670.8M213.1 687.9L218.6 684.8M152.6 542.5L147.1 544.4M160.3 557.1L155.9 558.4M214.2 659.4L217.5 656.1M221.9 674L226.3 670.2M169.1 543.1L163.6 543.8M176.9 557.7L172.3 557.7M223 645.4L225.2 641.5M230.7 660L234 655.5M185.6 543.8L180.1 543.1M193.3 558.4L188.9 557.1M231.8 631.5L232.9 626.9M239.5 646L241.7 640.9M202.1 544.4L196.6 542.5M209.8 559L205.4 556.5M217.5 573.7L214.2 570.4M225.2 588.3L223 584.4M232.9 602.9L231.8 598.3M240.6 617.5L240.6 612.3M248.3 632L249.4 626.3M218.6 545L213.1 541.9M226.3 559.6L221.9 555.8M234 574.3L230.7 569.8M241.7 588.9L239.5 583.8M249.4 603.5L248.3 597.8M257.1 618L257.1 611.8" stroke="#606060" stroke-width="6.0" fill="none"/><g fill="#fff" stroke="none"><circle cx="92.1" cy="611.8" r="3.92"/><circle cx="92.1" cy="618" r="3.92"/><circle cx="99.8" cy="626.3" r="3.92"/><circle cx="100.9" cy="632" r="3.92"/><circle cx="107.5" cy="640.9" r="3.92"/><circle cx="109.7" cy="646" r="3.92"/><circle cx="115.2" cy="655.5" r="3.92"/><circle cx="118.5" cy="660" r="3.92"/><circle cx="122.9" cy="670.2" r="3.92"/><circle cx="127.3" cy="674" r="3.92"/><circle cx="130.6" cy="684.8" r="3.92"/><circle cx="136.1" cy="687.9" r="3.92"/><circle cx="100.9" cy="597.8" r="3.92"/><circle cx="99.8" cy="603.5" r="3.92"/><circle cx="108.6" cy="612.3" r="3.92"/><circle cx="108.6" cy="617.5" r="3.92"/><circle cx="116.3" cy="626.9" r="3.92"/><circle cx="117.4" cy="631.5" r="3.92"/><circle cx="124" cy="641.5" r="3.92"/><circle cx="126.2" cy="645.4" r="3.92"/><circle cx="131.7" cy="656.1" r="3.92"/><circle cx="135" cy="659.4" r="3.92"/><circle cx="139.4" cy="670.8" r="3.92"/><circle cx="143.8" cy="673.3" r="3.92"/><circle cx="147.1" cy="685.4" r="3.92"/><circle cx="152.6" cy="687.3" r="3.92"/><circle cx="109.7" cy="583.8" r="3.92"/><circle cx="107.5" cy="588.9" r="3.92"/><circle cx="117.4" cy="598.3" r="3.92"/><circle cx="116.3" cy="602.9" r="3.92"/><circle cx="125.1" cy="612.9" r="3.92"/><circle cx="125.1" cy="616.9" r="3.92"/><circle cx="132.8" cy="627.5" r="3.92"/><circle cx="133.9" cy="630.9" r="3.92"/><circle cx="140.4" cy="642.1" r="3.92"/><circle cx="142.8" cy="644.8" r="3.92"/><circle cx="148.1" cy="656.8" r="3.92"/><circle cx="151.6" cy="658.8" r="3.92"/><circle cx="155.9" cy="671.4" r="3.92"/><circle cx="160.3" cy="672.7" r="3.92"/><circle cx="163.6" cy="686" r="3.92"/><circle cx="169.1" cy="686.7" r="3.92"/><circle cx="118.5" cy="569.8" r="3.92"/><circle cx="115.2" cy="574.3" r="3.92"/><circle cx="126.2" cy="584.4" r="3.92"/><circle cx="124" cy="588.3" r="3.92"/><circle cx="133.9" cy="598.9" r="3.92"/><circle cx="132.8" cy="602.3" r="3.92"/><circle cx="141.6" cy="613.5" r="3.82"/><circle cx="141.6" cy="616.3" r="3.82"/><circle cx="149.2" cy="628.1" r="3.78"/><circle cx="150.5" cy="630.3" r="3.78"/><circle cx="156.9" cy="642.8" r="3.82"/><circle cx="159.3" cy="644.2" r="3.82"/><circle cx="164.6" cy="657.4" r="3.92"/><circle cx="168.1" cy="658.1" r="3.92"/><circle cx="172.3" cy="672.1" r="3.92"/><circle cx="176.9" cy="672.1" r="3.92"/><circle cx="180.1" cy="686.7" r="3.92"/><circle cx="185.6" cy="686" r="3.92"/><circle cx="127.3" cy="555.8" r="3.92"/><circle cx="122.9" cy="559.6" r="3.92"/><circle cx="135" cy="570.4" r="3.92"/><circle cx="131.7" cy="573.7" r="3.92"/><circle cx="142.8" cy="585" r="3.92"/><circle cx="140.4" cy="587.7" r="3.92"/><circle cx="150.5" cy="599.5" r="3.78"/><circle cx="149.2" cy="601.7" r="3.78"/><circle cx="158.1" cy="614.1" r="3.66"/><circle cx="158.1" cy="615.7" r="3.66"/><circle cx="165.6" cy="628.8" r="3.66"/><circle cx="167.1" cy="629.6" r="3.66"/><circle cx="173.3" cy="643.5" r="3.78"/><circle cx="175.9" cy="643.5" r="3.78"/><circle cx="181.1" cy="658.1" r="3.92"/><circle cx="184.6" cy="657.4" r="3.92"/><circle cx="188.9" cy="672.7" r="3.92"/><circle cx="193.3" cy="671.4" r="3.92"/><circle cx="196.6" cy="687.3" r="3.92"/><circle cx="202.1" cy="685.4" r="3.92"/><circle cx="136.1" cy="541.9" r="3.92"/><circle cx="130.6" cy="545" r="3.92"/><circle cx="143.8" cy="556.5" r="3.92"/><circle cx="139.4" cy="559" r="3.92"/><circle cx="151.6" cy="571" r="3.92"/><circle cx="148.1" cy="573" r="3.92"/><circle cx="159.3" cy="585.6" r="3.82"/><circle cx="156.9" cy="587" r="3.82"/><circle cx="167.1" cy="600.2" r="3.66"/><circle cx="165.6" cy="601" r="3.66"/><circle cx="174.6" cy="614.9" r="3.5"/><circle cx="182.1" cy="629.6" r="3.66"/><circle cx="183.6" cy="628.8" r="3.66"/><circle cx="189.9" cy="644.2" r="3.82"/><circle cx="192.3" cy="642.8" r="3.82"/><circle cx="197.6" cy="658.8" r="3.92"/><circle cx="201.1" cy="656.8" r="3.92"/><circle cx="205.4" cy="673.3" r="3.92"/><circle cx="209.8" cy="670.8" r="3.92"/><circle cx="213.1" cy="687.9" r="3.92"/><circle cx="218.6" cy="684.8" r="3.92"/><circle cx="152.6" cy="542.5" r="3.92"/><circle cx="147.1" cy="544.4" r="3.92"/><circle cx="160.3" cy="557.1" r="3.92"/><circle cx="155.9" cy="558.4" r="3.92"/><circle cx="168.1" cy="571.7" r="3.92"/><circle cx="164.6" cy="572.4" r="3.92"/><circle cx="175.9" cy="586.3" r="3.78"/><circle cx="173.3" cy="586.3" r="3.78"/><circle cx="183.6" cy="601" r="3.66"/><circle cx="182.1" cy="600.2" r="3.66"/><circle cx="191.1" cy="615.7" r="3.66"/><circle cx="191.1" cy="614.1" r="3.66"/><circle cx="198.7" cy="630.3" r="3.78"/><circle cx="200" cy="628.1" r="3.78"/><circle cx="206.4" cy="644.8" r="3.92"/><circle cx="208.8" cy="642.1" r="3.92"/><circle cx="214.2" cy="659.4" r="3.92"/><circle cx="217.5" cy="656.1" r="3.92"/><circle cx="221.9" cy="674" r="3.92"/><circle cx="226.3" cy="670.2" r="3.92"/><circle cx="169.1" cy="543.1" r="3.92"/><circle cx="163.6" cy="543.8" r="3.92"/><circle cx="176.9" cy="557.7" r="3.92"/><circle cx="172.3" cy="557.7" r="3.92"/><circle cx="184.6" cy="572.4" r="3.92"/><circle cx="181.1" cy="571.7" r="3.92"/><circle cx="192.3" cy="587" r="3.82"/><circle cx="189.9" cy="585.6" r="3.82"/><circle cx="200" cy="601.7" r="3.78"/><circle cx="198.7" cy="599.5" r="3.78"/><circle cx="207.6" cy="616.3" r="3.82"/><circle cx="207.6" cy="613.5" r="3.82"/><circle cx="215.3" cy="630.9" r="3.92"/><circle cx="216.4" cy="627.5" r="3.92"/><circle cx="223" cy="645.4" r="3.92"/><circle cx="225.2" cy="641.5" r="3.92"/><circle cx="230.7" cy="660" r="3.92"/><circle cx="234" cy="655.5" r="3.92"/><circle cx="185.6" cy="543.8" r="3.92"/><circle cx="180.1" cy="543.1" r="3.92"/><circle cx="193.3" cy="558.4" r="3.92"/><circle cx="188.9" cy="557.1" r="3.92"/><circle cx="201.1" cy="573" r="3.92"/><circle cx="197.6" cy="571" r="3.92"/><circle cx="208.8" cy="587.7" r="3.92"/><circle cx="206.4" cy="585" r="3.92"/><circle cx="216.4" cy="602.3" r="3.92"/><circle cx="215.3" cy="598.9" r="3.92"/><circle cx="224.1" cy="616.9" r="3.92"/><circle cx="224.1" cy="612.9" r="3.92"/><circle cx="231.8" cy="631.5" r="3.92"/><circle cx="232.9" cy="626.9" r="3.92"/><circle cx="239.5" cy="646" r="3.92"/><circle cx="241.7" cy="640.9" r="3.92"/><circle cx="202.1" cy="544.4" r="3.92"/><circle cx="196.6" cy="542.5" r="3.92"/><circle cx="209.8" cy="559" r="3.92"/><circle cx="205.4" cy="556.5" r="3.92"/><circle cx="217.5" cy="573.7" r="3.92"/><circle cx="214.2" cy="570.4" r="3.92"/><circle cx="225.2" cy="588.3" r="3.92"/><circle cx="223" cy="584.4" r="3.92"/><circle cx="232.9" cy="602.9" r="3.92"/><circle cx="231.8" cy="598.3" r="3.92"/><circle cx="240.6" cy="617.5" r="3.92"/><circle cx="240.6" cy="612.3" r="3.92"/><circle cx="248.3" cy="632" r="3.92"/><circle cx="249.4" cy="626.3" r="3.92"/><circle cx="218.6" cy="545" r="3.92"/><circle cx="213.1" cy="541.9" r="3.92"/><circle cx="226.3" cy="559.6" r="3.92"/><circle cx="221.9" cy="555.8" r="3.92"/><circle cx="234" cy="574.3" r="3.92"/><circle cx="230.7" cy="569.8" r="3.92"/><circle cx="241.7" cy="588.9" r="3.92"/><circle cx="239.5" cy="583.8" r="3.92"/><circle cx="249.4" cy="603.5" r="3.92"/><circle cx="248.3" cy="597.8" r="3.92"/><circle cx="257.1" cy="618" r="3.92"/><circle cx="257.1" cy="611.8" r="3.92"/></g><path d="M92.1 611.8L92.1 618M99.8 626.3L100.9 632M107.5 640.9L109.7 646M115.2 655.5L118.5 660M122.9 670.2L127.3 674M130.6 684.8L136.1 687.9M100.9 597.8L99.8 603.5M108.6 612.3L108.6 617.5M116.3 626.9L117.4 631.5M124 641.5L126.2 645.4M131.7 656.1L135 659.4M139.4 670.8L143.8 673.3M147.1 685.4L152.6 687.3M109.7 583.8L107.5 588.9M117.4 598.3L116.3 602.9M155.9 671.4L160.3 672.7M163.6 686L169.1 686.7M118.5 569.8L115.2 574.3M126.2 584.4L124 588.3M172.3 672.1L176.9 672.1M180.1 686.7L185.6 686M127.3 555.8L122.9 559.6M135 570.4L131.7 573.7M188.9 672.7L193.3 671.4M196.6 687.3L202.1 685.4M136.1 541.9L130.6 545M143.8 556.5L139.4 559M205.4 673.3L209.8 670.8M213.1 687.9L218.6 684.8M152.6 542.5L147.1 544.4M160.3 557.1L155.9 558.4M214.2 659.4L217.5 656.1M221.9 674L226.3 670.2M169.1 543.1L163.6 543.8M176.9 557.7L172.3 557.7M223 645.4L225.2 641.5M230.7 660L234 655.5M185.6 543.8L180.1 543.1M193.3 558.4L188.9 557.1M231.8 631.5L232.9 626.9M239.5 646L241.7 640.9M202.1 544.4L196.6 542.5M209.8 559L205.4 556.5M217.5 573.7L214.2 570.4M225.2 588.3L223 584.4M232.9 602.9L231.8 598.3M240.6 617.5L240.6 612.3M248.3 632L249.4 626.3M218.6 545L213.1 541.9M226.3 559.6L221.9 555.8M234 574.3L230.7 569.8M241.7 588.9L239.5 583.8M249.4 603.5L248.3 597.8M257.1 618L257.1 611.8" stroke="#fff" stroke-width="5.0" fill="none"/><path d="M84.1 613.4V715.4M264.8 613.4V715.4" stroke="#888" stroke-width="1.45" stroke-dasharray="4.7 3.53" fill="none"/><path d="M179.8 619.2L300 582.1" stroke="#f00" stroke-width="1.3"/><path d="M169.6 608.9L262 508.2" stroke="#f00" stroke-width="1.3"/><circle cx="174.6" cy="614.9" r="7" fill="none" stroke="#f00" stroke-width="1.4"/><circle cx="291.3" cy="540.1" r="44.3" fill="#dcdcdc" stroke="#f00" stroke-width="1.4"/><linearGradient id="wallE" x1="0" y1="0" x2="1" y2="0"><stop offset="0" stop-color="#b4b4b4"/><stop offset="0.12" stop-color="#8c8c8c"/><stop offset="0.45" stop-color="#6c6c6c"/><stop offset="0.85" stop-color="#5e5e5e"/><stop offset="1" stop-color="#727272"/></linearGradient><clipPath id="holeE"><ellipse cx="291.6" cy="539.5" rx="27.5" ry="21"/></clipPath><ellipse cx="291.6" cy="539.5" rx="27.5" ry="21" fill="url(#wallE)"/><ellipse cx="291.6" cy="548.6" rx="26.2" ry="12.3" fill="#fff" clip-path="url(#holeE)"/><path d="M61.5 529.8V551.5H83.1" fill="none" stroke="#000" stroke-width="1.3"/><path d="M61.5 524.8l-3.1 6.6h6.2zM88.1 551.5l-6.6 -3.1v6.2z" fill="#000"/><g font-family='"Liberation Serif", "DejaVu Serif", serif' font-style="italic" font-size="15" fill="#111"><text x="59.2" y="520.2">y</text><text x="91.2" y="554.8">x</text></g><g font-family='"Liberation Sans", Arial, sans-serif' fill="#000" stroke="#000" stroke-width="0.12"><path d="M83.8 733.5h1.5M83.8 730.5h1.5M83.8 728.3h1.5M83.8 726.6h1.5M83.8 725.2h1.5M83.8 724h1.5M83.8 723h1.5M83.8 722.1h1.5M83.8 751.1h1.5M83.8 748h1.5M83.8 745.8h1.5M83.8 744.1h1.5M83.8 742.7h1.5M83.8 741.5h1.5M83.8 740.5h1.5M83.8 739.6h1.5M83.8 768.6h1.5M83.8 765.5h1.5M83.8 763.3h1.5M83.8 761.6h1.5M83.8 760.2h1.5M83.8 759.1h1.5M83.8 758h1.5M83.8 757.2h1.5M83.8 786.1h1.5M83.8 783h1.5M83.8 780.8h1.5M83.8 779.2h1.5M83.8 777.8h1.5M83.8 776.6h1.5M83.8 775.6h1.5M83.8 774.7h1.5M83.8 803.6h1.5M83.8 800.6h1.5M83.8 798.4h1.5M83.8 796.7h1.5M83.8 795.3h1.5M83.8 794.1h1.5M83.8 793.1h1.5M83.8 792.2h1.5M83.8 821.2h1.5M83.8 818.1h1.5M83.8 815.9h1.5M83.8 814.2h1.5M83.8 812.8h1.5M83.8 811.6h1.5M83.8 810.6h1.5M83.8 809.7h1.5M83.8 838.7h1.5M83.8 835.6h1.5M83.8 833.4h1.5M83.8 831.7h1.5M83.8 830.3h1.5M83.8 829.2h1.5M83.8 828.1h1.5M83.8 827.3h1.5M83.8 856.2h1.5M83.8 853.1h1.5M83.8 850.9h1.5M83.8 849.3h1.5M83.8 847.9h1.5M83.8 846.7h1.5M83.8 845.7h1.5M83.8 844.8h1.5" stroke="#111" stroke-width="0.5" fill="none"/><path d="M83.8 721.3h3.0M83.8 738.8h3.0M83.8 756.3h3.0M83.8 773.9h3.0M83.8 791.4h3.0M83.8 808.9h3.0M83.8 826.5h3.0M83.8 844h3.0M83.8 861.5h3.0" stroke="#111" stroke-width="0.8" fill="none"/><text x="53.8" y="725.6" text-anchor="start" font-size="13">10<tspan font-size="9.6" dy="-3.9">0</tspan></text><text x="54.4" y="760.6" text-anchor="start" font-size="13">10<tspan font-size="9.6" dy="-3.9">-2</tspan></text><text x="54.4" y="795.7" text-anchor="start" font-size="13">10<tspan font-size="9.6" dy="-3.9">-4</tspan></text><text x="54.4" y="830.8" text-anchor="start" font-size="13">10<tspan font-size="9.6" dy="-3.9">-6</tspan></text><text x="54.4" y="865.8" text-anchor="start" font-size="13">10<tspan font-size="9.6" dy="-3.9">-8</tspan></text><path d="M99.3 861.5v-3.0M136.8 861.5v-3.0M174.3 861.5v-3.0M211.8 861.5v-3.0M249.3 861.5v-3.0" stroke="#111" stroke-width="0.8" fill="none"/><text x="99.3" y="878.3" text-anchor="middle" font-size="13.8">-2</text><text x="136.8" y="878.3" text-anchor="middle" font-size="13.8">-1</text><text x="174.3" y="878.3" text-anchor="middle" font-size="13.8">0</text><text x="211.8" y="878.3" text-anchor="middle" font-size="13.8">1</text><text x="249.3" y="878.3" text-anchor="middle" font-size="13.8">2</text><text transform="translate(31.3 791.5) rotate(-90)" text-anchor="middle" font-size="14">Normalized intensity</text></g><text x="174.3" y="901.4" text-anchor="middle" font-family='"Liberation Serif", "DejaVu Serif", serif' font-style="italic" font-size="15.5" fill="#1a1a1a" textLength="21.4" lengthAdjust="spacing">x/λ</text><clipPath id="ce"><rect x="83.8" y="715.7" width="181.05" height="145.79999999999995"/></clipPath><polyline clip-path="url(#ce)" points="83.9,808.4 85,806.5 86.7,805.2 88.1,808.2 88.8,812.7 89.2,846.6 89.6,814.4 90.1,810.2 91,809.5 93.3,812.7 94.9,816.5 95.4,846.3 95.9,816.2 97.7,813 100.4,810.9 102.7,814.1 104.6,815.8 105.1,831.8 105.5,805.6 106.5,793.2 108.3,783.5 110.4,775.8 111.7,772.3 112,792.3 112.4,770.2 113.6,766.3 114.9,766.6 116.5,771.9 117.7,782.6 118.4,793.2 118.8,834.8 119.3,791.4 120.2,779.4 121.1,775.8 121.4,787 121.9,770.2 124.2,759.9 126.7,752.1 128.1,748.6 128.5,760.4 129,746.1 130.4,744.2 131.9,746.8 133.1,755.1 134,770.2 134.5,822.4 135,766.6 135.9,754.2 136.6,752.1 137,757.8 137.5,748.6 140.2,741.3 143.4,734.4 145.1,731.2 145.5,739.2 146,730.5 146.9,730 148.1,733 149.4,742.7 150.1,763.1 150.4,839.7 151,763.1 151.7,743.6 152.7,734.8 154,732.1 157.9,726.8 160.5,723.3 161.9,722.2 163.4,723.8 164.8,733 165.8,754.2 166.4,807.3 166.9,754.2 168,730.4 169.4,722 170.6,721 172.4,721.7 174.3,722 176.2,721.7 178,721 179.2,722 180.6,730.4 181.7,754.2 182.2,807.3 182.8,754.2 183.8,733 185.2,723.8 186.7,722.2 188.1,723.3 190.7,726.8 194.6,732.1 195.9,734.8 196.9,743.6 197.6,763.1 198.2,839.7 198.5,763.1 199.2,742.7 200.5,733 201.7,730 202.6,730.5 203.1,739.2 203.5,731.2 205.2,734.4 208.4,741.3 211.1,748.6 211.6,757.8 212,752.1 212.7,754.2 213.6,766.6 214.1,822.4 214.6,770.2 215.5,755.1 216.7,746.8 218.2,744.2 219.6,746.1 220.1,760.4 220.5,748.6 221.9,752.1 224.4,759.9 226.7,770.2 227.2,787 227.5,775.8 228.4,779.4 229.3,791.4 229.8,834.8 230.2,793.2 230.9,782.6 232.1,771.9 233.7,766.6 235,766.3 236.2,770.2 236.6,792.3 236.9,772.3 238.2,775.8 240.3,783.5 242.1,793.2 243.1,805.6 243.5,831.8 244,815.8 245.9,814.1 248.2,810.9 250.9,813 252.7,816.2 253.2,846.3 253.7,816.5 255.3,812.7 257.6,809.5 258.5,810.2 259,814.4 259.4,846.6 259.8,812.7 260.5,808.2 261.9,805.2 263.6,806.5 264.7,808.4 264.2,808 264.3,836" fill="none" stroke="#337fe2" stroke-width="0.8" stroke-linejoin="round"/><path d="M83.8 715.7H264.85V861.5" fill="none" stroke="#555" stroke-width="0.9"/><path d="M83.8 715.7V861.5H264.85" fill="none" stroke="#222" stroke-width="1"/><polygon points="432,615.5 477.4,537.3 568.2,537.3 613.6,615.5 568.2,693.7 477.4,693.7" fill="#d8d8d8" stroke="#9b9b9b" stroke-width="0.8"/><g fill="#606060" stroke="none"><circle cx="440.3" cy="611.8" r="4.42"/><circle cx="440.3" cy="618" r="4.42"/><circle cx="448" cy="626.3" r="4.42"/><circle cx="449.1" cy="632" r="4.42"/><circle cx="455.7" cy="640.9" r="4.42"/><circle cx="457.9" cy="646" r="4.42"/><circle cx="463.4" cy="655.5" r="4.42"/><circle cx="466.7" cy="660" r="4.42"/><circle cx="471.1" cy="670.2" r="4.42"/><circle cx="475.5" cy="674" r="4.42"/><circle cx="478.8" cy="684.8" r="4.42"/><circle cx="484.3" cy="687.9" r="4.42"/><circle cx="449.1" cy="597.8" r="4.42"/><circle cx="448" cy="603.5" r="4.42"/><circle cx="456.8" cy="612.3" r="4.42"/><circle cx="456.8" cy="617.5" r="4.42"/><circle cx="464.5" cy="626.9" r="4.42"/><circle cx="465.6" cy="631.5" r="4.42"/><circle cx="472.2" cy="641.5" r="4.42"/><circle cx="474.4" cy="645.4" r="4.42"/><circle cx="479.9" cy="656.1" r="4.42"/><circle cx="483.2" cy="659.4" r="4.42"/><circle cx="487.6" cy="670.8" r="4.42"/><circle cx="492" cy="673.3" r="4.42"/><circle cx="495.3" cy="685.4" r="4.42"/><circle cx="500.8" cy="687.3" r="4.42"/><circle cx="457.9" cy="583.8" r="4.42"/><circle cx="455.7" cy="588.9" r="4.42"/><circle cx="465.6" cy="598.3" r="4.42"/><circle cx="464.5" cy="602.9" r="4.42"/><circle cx="473.3" cy="612.9" r="4.42"/><circle cx="473.3" cy="616.9" r="4.42"/><circle cx="481" cy="627.5" r="4.42"/><circle cx="482.1" cy="630.9" r="4.42"/><circle cx="488.6" cy="642.1" r="4.42"/><circle cx="491" cy="644.8" r="4.42"/><circle cx="496.3" cy="656.8" r="4.42"/><circle cx="499.8" cy="658.8" r="4.42"/><circle cx="504.1" cy="671.4" r="4.42"/><circle cx="508.5" cy="672.7" r="4.42"/><circle cx="511.8" cy="686" r="4.42"/><circle cx="517.3" cy="686.7" r="4.42"/><circle cx="466.7" cy="569.8" r="4.42"/><circle cx="463.4" cy="574.3" r="4.42"/><circle cx="474.4" cy="584.4" r="4.42"/><circle cx="472.2" cy="588.3" r="4.42"/><circle cx="482.1" cy="598.9" r="4.42"/><circle cx="481" cy="602.3" r="4.42"/><circle cx="489.8" cy="613.5" r="4.32"/><circle cx="489.8" cy="616.3" r="4.32"/><circle cx="497.4" cy="628.1" r="4.28"/><circle cx="498.7" cy="630.3" r="4.28"/><circle cx="505.1" cy="642.8" r="4.32"/><circle cx="507.5" cy="644.2" r="4.32"/><circle cx="512.8" cy="657.4" r="4.42"/><circle cx="516.3" cy="658.1" r="4.42"/><circle cx="520.5" cy="672.1" r="4.42"/><circle cx="525.1" cy="672.1" r="4.42"/><circle cx="528.3" cy="686.7" r="4.42"/><circle cx="533.8" cy="686" r="4.42"/><circle cx="475.5" cy="555.8" r="4.42"/><circle cx="471.1" cy="559.6" r="4.42"/><circle cx="483.2" cy="570.4" r="4.42"/><circle cx="479.9" cy="573.7" r="4.42"/><circle cx="491" cy="585" r="4.42"/><circle cx="488.6" cy="587.7" r="4.42"/><circle cx="498.7" cy="599.5" r="4.28"/><circle cx="497.4" cy="601.7" r="4.28"/><circle cx="506.3" cy="614.1" r="4.16"/><circle cx="506.3" cy="615.7" r="4.16"/><circle cx="513.8" cy="628.8" r="4.16"/><circle cx="515.3" cy="629.6" r="4.16"/><circle cx="521.5" cy="643.5" r="4.28"/><circle cx="524.1" cy="643.5" r="4.28"/><circle cx="529.3" cy="658.1" r="4.42"/><circle cx="532.8" cy="657.4" r="4.42"/><circle cx="537.1" cy="672.7" r="4.42"/><circle cx="541.5" cy="671.4" r="4.42"/><circle cx="544.8" cy="687.3" r="4.42"/><circle cx="550.3" cy="685.4" r="4.42"/><circle cx="484.3" cy="541.9" r="4.42"/><circle cx="478.8" cy="545" r="4.42"/><circle cx="492" cy="556.5" r="4.42"/><circle cx="487.6" cy="559" r="4.42"/><circle cx="499.8" cy="571" r="4.42"/><circle cx="496.3" cy="573" r="4.42"/><circle cx="507.5" cy="585.6" r="4.32"/><circle cx="505.1" cy="587" r="4.32"/><circle cx="515.3" cy="600.2" r="4.16"/><circle cx="513.8" cy="601" r="4.16"/><circle cx="530.3" cy="629.6" r="4.16"/><circle cx="531.8" cy="628.8" r="4.16"/><circle cx="538.1" cy="644.2" r="4.32"/><circle cx="540.5" cy="642.8" r="4.32"/><circle cx="545.8" cy="658.8" r="4.42"/><circle cx="549.3" cy="656.8" r="4.42"/><circle cx="553.6" cy="673.3" r="4.42"/><circle cx="558" cy="670.8" r="4.42"/><circle cx="561.3" cy="687.9" r="4.42"/><circle cx="566.8" cy="684.8" r="4.42"/><circle cx="500.8" cy="542.5" r="4.42"/><circle cx="495.3" cy="544.4" r="4.42"/><circle cx="508.5" cy="557.1" r="4.42"/><circle cx="504.1" cy="558.4" r="4.42"/><circle cx="516.3" cy="571.7" r="4.42"/><circle cx="512.8" cy="572.4" r="4.42"/><circle cx="524.1" cy="586.3" r="4.28"/><circle cx="521.5" cy="586.3" r="4.28"/><circle cx="531.8" cy="601" r="4.16"/><circle cx="530.3" cy="600.2" r="4.16"/><circle cx="539.3" cy="615.7" r="4.16"/><circle cx="539.3" cy="614.1" r="4.16"/><circle cx="546.9" cy="630.3" r="4.28"/><circle cx="548.2" cy="628.1" r="4.28"/><circle cx="554.6" cy="644.8" r="4.42"/><circle cx="557" cy="642.1" r="4.42"/><circle cx="562.4" cy="659.4" r="4.42"/><circle cx="565.7" cy="656.1" r="4.42"/><circle cx="570.1" cy="674" r="4.42"/><circle cx="574.5" cy="670.2" r="4.42"/><circle cx="517.3" cy="543.1" r="4.42"/><circle cx="511.8" cy="543.8" r="4.42"/><circle cx="525.1" cy="557.7" r="4.42"/><circle cx="520.5" cy="557.7" r="4.42"/><circle cx="532.8" cy="572.4" r="4.42"/><circle cx="529.3" cy="571.7" r="4.42"/><circle cx="540.5" cy="587" r="4.32"/><circle cx="538.1" cy="585.6" r="4.32"/><circle cx="548.2" cy="601.7" r="4.28"/><circle cx="546.9" cy="599.5" r="4.28"/><circle cx="555.8" cy="616.3" r="4.32"/><circle cx="555.8" cy="613.5" r="4.32"/><circle cx="563.5" cy="630.9" r="4.42"/><circle cx="564.6" cy="627.5" r="4.42"/><circle cx="571.2" cy="645.4" r="4.42"/><circle cx="573.4" cy="641.5" r="4.42"/><circle cx="578.9" cy="660" r="4.42"/><circle cx="582.2" cy="655.5" r="4.42"/><circle cx="533.8" cy="543.8" r="4.42"/><circle cx="528.3" cy="543.1" r="4.42"/><circle cx="541.5" cy="558.4" r="4.42"/><circle cx="537.1" cy="557.1" r="4.42"/><circle cx="549.3" cy="573" r="4.42"/><circle cx="545.8" cy="571" r="4.42"/><circle cx="557" cy="587.7" r="4.42"/><circle cx="554.6" cy="585" r="4.42"/><circle cx="564.6" cy="602.3" r="4.42"/><circle cx="563.5" cy="598.9" r="4.42"/><circle cx="572.3" cy="616.9" r="4.42"/><circle cx="572.3" cy="612.9" r="4.42"/><circle cx="580" cy="631.5" r="4.42"/><circle cx="581.1" cy="626.9" r="4.42"/><circle cx="587.7" cy="646" r="4.42"/><circle cx="589.9" cy="640.9" r="4.42"/><circle cx="550.3" cy="544.4" r="4.42"/><circle cx="544.8" cy="542.5" r="4.42"/><circle cx="558" cy="559" r="4.42"/><circle cx="553.6" cy="556.5" r="4.42"/><circle cx="565.7" cy="573.7" r="4.42"/><circle cx="562.4" cy="570.4" r="4.42"/><circle cx="573.4" cy="588.3" r="4.42"/><circle cx="571.2" cy="584.4" r="4.42"/><circle cx="581.1" cy="602.9" r="4.42"/><circle cx="580" cy="598.3" r="4.42"/><circle cx="588.8" cy="617.5" r="4.42"/><circle cx="588.8" cy="612.3" r="4.42"/><circle cx="596.5" cy="632" r="4.42"/><circle cx="597.6" cy="626.3" r="4.42"/><circle cx="566.8" cy="545" r="4.42"/><circle cx="561.3" cy="541.9" r="4.42"/><circle cx="574.5" cy="559.6" r="4.42"/><circle cx="570.1" cy="555.8" r="4.42"/><circle cx="582.2" cy="574.3" r="4.42"/><circle cx="578.9" cy="569.8" r="4.42"/><circle cx="589.9" cy="588.9" r="4.42"/><circle cx="587.7" cy="583.8" r="4.42"/><circle cx="597.6" cy="603.5" r="4.42"/><circle cx="596.5" cy="597.8" r="4.42"/><circle cx="605.3" cy="618" r="4.42"/><circle cx="605.3" cy="611.8" r="4.42"/></g><path d="M440.3 611.8L440.3 618M448 626.3L449.1 632M455.7 640.9L457.9 646M463.4 655.5L466.7 660M471.1 670.2L475.5 674M478.8 684.8L484.3 687.9M449.1 597.8L448 603.5M456.8 612.3L456.8 617.5M464.5 626.9L465.6 631.5M472.2 641.5L474.4 645.4M479.9 656.1L483.2 659.4M487.6 670.8L492 673.3M495.3 685.4L500.8 687.3M457.9 583.8L455.7 588.9M465.6 598.3L464.5 602.9M504.1 671.4L508.5 672.7M511.8 686L517.3 686.7M466.7 569.8L463.4 574.3M474.4 584.4L472.2 588.3M520.5 672.1L525.1 672.1M528.3 686.7L533.8 686M475.5 555.8L471.1 559.6M483.2 570.4L479.9 573.7M537.1 672.7L541.5 671.4M544.8 687.3L550.3 685.4M484.3 541.9L478.8 545M492 556.5L487.6 559M553.6 673.3L558 670.8M561.3 687.9L566.8 684.8M500.8 542.5L495.3 544.4M508.5 557.1L504.1 558.4M562.4 659.4L565.7 656.1M570.1 674L574.5 670.2M517.3 543.1L511.8 543.8M525.1 557.7L520.5 557.7M571.2 645.4L573.4 641.5M578.9 660L582.2 655.5M533.8 543.8L528.3 543.1M541.5 558.4L537.1 557.1M580 631.5L581.1 626.9M587.7 646L589.9 640.9M550.3 544.4L544.8 542.5M558 559L553.6 556.5M565.7 573.7L562.4 570.4M573.4 588.3L571.2 584.4M581.1 602.9L580 598.3M588.8 617.5L588.8 612.3M596.5 632L597.6 626.3M566.8 545L561.3 541.9M574.5 559.6L570.1 555.8M582.2 574.3L578.9 569.8M589.9 588.9L587.7 583.8M597.6 603.5L596.5 597.8M605.3 618L605.3 611.8" stroke="#606060" stroke-width="6.0" fill="none"/><g fill="#fff" stroke="none"><circle cx="440.3" cy="611.8" r="3.92"/><circle cx="440.3" cy="618" r="3.92"/><circle cx="448" cy="626.3" r="3.92"/><circle cx="449.1" cy="632" r="3.92"/><circle cx="455.7" cy="640.9" r="3.92"/><circle cx="457.9" cy="646" r="3.92"/><circle cx="463.4" cy="655.5" r="3.92"/><circle cx="466.7" cy="660" r="3.92"/><circle cx="471.1" cy="670.2" r="3.92"/><circle cx="475.5" cy="674" r="3.92"/><circle cx="478.8" cy="684.8" r="3.92"/><circle cx="484.3" cy="687.9" r="3.92"/><circle cx="449.1" cy="597.8" r="3.92"/><circle cx="448" cy="603.5" r="3.92"/><circle cx="456.8" cy="612.3" r="3.92"/><circle cx="456.8" cy="617.5" r="3.92"/><circle cx="464.5" cy="626.9" r="3.92"/><circle cx="465.6" cy="631.5" r="3.92"/><circle cx="472.2" cy="641.5" r="3.92"/><circle cx="474.4" cy="645.4" r="3.92"/><circle cx="479.9" cy="656.1" r="3.92"/><circle cx="483.2" cy="659.4" r="3.92"/><circle cx="487.6" cy="670.8" r="3.92"/><circle cx="492" cy="673.3" r="3.92"/><circle cx="495.3" cy="685.4" r="3.92"/><circle cx="500.8" cy="687.3" r="3.92"/><circle cx="457.9" cy="583.8" r="3.92"/><circle cx="455.7" cy="588.9" r="3.92"/><circle cx="465.6" cy="598.3" r="3.92"/><circle cx="464.5" cy="602.9" r="3.92"/><circle cx="473.3" cy="612.9" r="3.92"/><circle cx="473.3" cy="616.9" r="3.92"/><circle cx="481" cy="627.5" r="3.92"/><circle cx="482.1" cy="630.9" r="3.92"/><circle cx="488.6" cy="642.1" r="3.92"/><circle cx="491" cy="644.8" r="3.92"/><circle cx="496.3" cy="656.8" r="3.92"/><circle cx="499.8" cy="658.8" r="3.92"/><circle cx="504.1" cy="671.4" r="3.92"/><circle cx="508.5" cy="672.7" r="3.92"/><circle cx="511.8" cy="686" r="3.92"/><circle cx="517.3" cy="686.7" r="3.92"/><circle cx="466.7" cy="569.8" r="3.92"/><circle cx="463.4" cy="574.3" r="3.92"/><circle cx="474.4" cy="584.4" r="3.92"/><circle cx="472.2" cy="588.3" r="3.92"/><circle cx="482.1" cy="598.9" r="3.92"/><circle cx="481" cy="602.3" r="3.92"/><circle cx="489.8" cy="613.5" r="3.82"/><circle cx="489.8" cy="616.3" r="3.82"/><circle cx="497.4" cy="628.1" r="3.78"/><circle cx="498.7" cy="630.3" r="3.78"/><circle cx="505.1" cy="642.8" r="3.82"/><circle cx="507.5" cy="644.2" r="3.82"/><circle cx="512.8" cy="657.4" r="3.92"/><circle cx="516.3" cy="658.1" r="3.92"/><circle cx="520.5" cy="672.1" r="3.92"/><circle cx="525.1" cy="672.1" r="3.92"/><circle cx="528.3" cy="686.7" r="3.92"/><circle cx="533.8" cy="686" r="3.92"/><circle cx="475.5" cy="555.8" r="3.92"/><circle cx="471.1" cy="559.6" r="3.92"/><circle cx="483.2" cy="570.4" r="3.92"/><circle cx="479.9" cy="573.7" r="3.92"/><circle cx="491" cy="585" r="3.92"/><circle cx="488.6" cy="587.7" r="3.92"/><circle cx="498.7" cy="599.5" r="3.78"/><circle cx="497.4" cy="601.7" r="3.78"/><circle cx="506.3" cy="614.1" r="3.66"/><circle cx="506.3" cy="615.7" r="3.66"/><circle cx="513.8" cy="628.8" r="3.66"/><circle cx="515.3" cy="629.6" r="3.66"/><circle cx="521.5" cy="643.5" r="3.78"/><circle cx="524.1" cy="643.5" r="3.78"/><circle cx="529.3" cy="658.1" r="3.92"/><circle cx="532.8" cy="657.4" r="3.92"/><circle cx="537.1" cy="672.7" r="3.92"/><circle cx="541.5" cy="671.4" r="3.92"/><circle cx="544.8" cy="687.3" r="3.92"/><circle cx="550.3" cy="685.4" r="3.92"/><circle cx="484.3" cy="541.9" r="3.92"/><circle cx="478.8" cy="545" r="3.92"/><circle cx="492" cy="556.5" r="3.92"/><circle cx="487.6" cy="559" r="3.92"/><circle cx="499.8" cy="571" r="3.92"/><circle cx="496.3" cy="573" r="3.92"/><circle cx="507.5" cy="585.6" r="3.82"/><circle cx="505.1" cy="587" r="3.82"/><circle cx="515.3" cy="600.2" r="3.66"/><circle cx="513.8" cy="601" r="3.66"/><circle cx="530.3" cy="629.6" r="3.66"/><circle cx="531.8" cy="628.8" r="3.66"/><circle cx="538.1" cy="644.2" r="3.82"/><circle cx="540.5" cy="642.8" r="3.82"/><circle cx="545.8" cy="658.8" r="3.92"/><circle cx="549.3" cy="656.8" r="3.92"/><circle cx="553.6" cy="673.3" r="3.92"/><circle cx="558" cy="670.8" r="3.92"/><circle cx="561.3" cy="687.9" r="3.92"/><circle cx="566.8" cy="684.8" r="3.92"/><circle cx="500.8" cy="542.5" r="3.92"/><circle cx="495.3" cy="544.4" r="3.92"/><circle cx="508.5" cy="557.1" r="3.92"/><circle cx="504.1" cy="558.4" r="3.92"/><circle cx="516.3" cy="571.7" r="3.92"/><circle cx="512.8" cy="572.4" r="3.92"/><circle cx="524.1" cy="586.3" r="3.78"/><circle cx="521.5" cy="586.3" r="3.78"/><circle cx="531.8" cy="601" r="3.66"/><circle cx="530.3" cy="600.2" r="3.66"/><circle cx="539.3" cy="615.7" r="3.66"/><circle cx="539.3" cy="614.1" r="3.66"/><circle cx="546.9" cy="630.3" r="3.78"/><circle cx="548.2" cy="628.1" r="3.78"/><circle cx="554.6" cy="644.8" r="3.92"/><circle cx="557" cy="642.1" r="3.92"/><circle cx="562.4" cy="659.4" r="3.92"/><circle cx="565.7" cy="656.1" r="3.92"/><circle cx="570.1" cy="674" r="3.92"/><circle cx="574.5" cy="670.2" r="3.92"/><circle cx="517.3" cy="543.1" r="3.92"/><circle cx="511.8" cy="543.8" r="3.92"/><circle cx="525.1" cy="557.7" r="3.92"/><circle cx="520.5" cy="557.7" r="3.92"/><circle cx="532.8" cy="572.4" r="3.92"/><circle cx="529.3" cy="571.7" r="3.92"/><circle cx="540.5" cy="587" r="3.82"/><circle cx="538.1" cy="585.6" r="3.82"/><circle cx="548.2" cy="601.7" r="3.78"/><circle cx="546.9" cy="599.5" r="3.78"/><circle cx="555.8" cy="616.3" r="3.82"/><circle cx="555.8" cy="613.5" r="3.82"/><circle cx="563.5" cy="630.9" r="3.92"/><circle cx="564.6" cy="627.5" r="3.92"/><circle cx="571.2" cy="645.4" r="3.92"/><circle cx="573.4" cy="641.5" r="3.92"/><circle cx="578.9" cy="660" r="3.92"/><circle cx="582.2" cy="655.5" r="3.92"/><circle cx="533.8" cy="543.8" r="3.92"/><circle cx="528.3" cy="543.1" r="3.92"/><circle cx="541.5" cy="558.4" r="3.92"/><circle cx="537.1" cy="557.1" r="3.92"/><circle cx="549.3" cy="573" r="3.92"/><circle cx="545.8" cy="571" r="3.92"/><circle cx="557" cy="587.7" r="3.92"/><circle cx="554.6" cy="585" r="3.92"/><circle cx="564.6" cy="602.3" r="3.92"/><circle cx="563.5" cy="598.9" r="3.92"/><circle cx="572.3" cy="616.9" r="3.92"/><circle cx="572.3" cy="612.9" r="3.92"/><circle cx="580" cy="631.5" r="3.92"/><circle cx="581.1" cy="626.9" r="3.92"/><circle cx="587.7" cy="646" r="3.92"/><circle cx="589.9" cy="640.9" r="3.92"/><circle cx="550.3" cy="544.4" r="3.92"/><circle cx="544.8" cy="542.5" r="3.92"/><circle cx="558" cy="559" r="3.92"/><circle cx="553.6" cy="556.5" r="3.92"/><circle cx="565.7" cy="573.7" r="3.92"/><circle cx="562.4" cy="570.4" r="3.92"/><circle cx="573.4" cy="588.3" r="3.92"/><circle cx="571.2" cy="584.4" r="3.92"/><circle cx="581.1" cy="602.9" r="3.92"/><circle cx="580" cy="598.3" r="3.92"/><circle cx="588.8" cy="617.5" r="3.92"/><circle cx="588.8" cy="612.3" r="3.92"/><circle cx="596.5" cy="632" r="3.92"/><circle cx="597.6" cy="626.3" r="3.92"/><circle cx="566.8" cy="545" r="3.92"/><circle cx="561.3" cy="541.9" r="3.92"/><circle cx="574.5" cy="559.6" r="3.92"/><circle cx="570.1" cy="555.8" r="3.92"/><circle cx="582.2" cy="574.3" r="3.92"/><circle cx="578.9" cy="569.8" r="3.92"/><circle cx="589.9" cy="588.9" r="3.92"/><circle cx="587.7" cy="583.8" r="3.92"/><circle cx="597.6" cy="603.5" r="3.92"/><circle cx="596.5" cy="597.8" r="3.92"/><circle cx="605.3" cy="618" r="3.92"/><circle cx="605.3" cy="611.8" r="3.92"/></g><path d="M440.3 611.8L440.3 618M448 626.3L449.1 632M455.7 640.9L457.9 646M463.4 655.5L466.7 660M471.1 670.2L475.5 674M478.8 684.8L484.3 687.9M449.1 597.8L448 603.5M456.8 612.3L456.8 617.5M464.5 626.9L465.6 631.5M472.2 641.5L474.4 645.4M479.9 656.1L483.2 659.4M487.6 670.8L492 673.3M495.3 685.4L500.8 687.3M457.9 583.8L455.7 588.9M465.6 598.3L464.5 602.9M504.1 671.4L508.5 672.7M511.8 686L517.3 686.7M466.7 569.8L463.4 574.3M474.4 584.4L472.2 588.3M520.5 672.1L525.1 672.1M528.3 686.7L533.8 686M475.5 555.8L471.1 559.6M483.2 570.4L479.9 573.7M537.1 672.7L541.5 671.4M544.8 687.3L550.3 685.4M484.3 541.9L478.8 545M492 556.5L487.6 559M553.6 673.3L558 670.8M561.3 687.9L566.8 684.8M500.8 542.5L495.3 544.4M508.5 557.1L504.1 558.4M562.4 659.4L565.7 656.1M570.1 674L574.5 670.2M517.3 543.1L511.8 543.8M525.1 557.7L520.5 557.7M571.2 645.4L573.4 641.5M578.9 660L582.2 655.5M533.8 543.8L528.3 543.1M541.5 558.4L537.1 557.1M580 631.5L581.1 626.9M587.7 646L589.9 640.9M550.3 544.4L544.8 542.5M558 559L553.6 556.5M565.7 573.7L562.4 570.4M573.4 588.3L571.2 584.4M581.1 602.9L580 598.3M588.8 617.5L588.8 612.3M596.5 632L597.6 626.3M566.8 545L561.3 541.9M574.5 559.6L570.1 555.8M582.2 574.3L578.9 569.8M589.9 588.9L587.7 583.8M597.6 603.5L596.5 597.8M605.3 618L605.3 611.8" stroke="#fff" stroke-width="5.0" fill="none"/><g fill="#fff" stroke="#5a5a5a" stroke-width="0.6"><ellipse cx="521.0999999999999" cy="614.9" rx="2" ry="3.7"/><ellipse cx="524.5" cy="614.9" rx="2" ry="3.7"/></g><path d="M432.3 613.4V715.4M613 613.4V715.4" stroke="#888" stroke-width="1.45" stroke-dasharray="4.7 3.53" fill="none"/><path d="M528 619.8L648.2 582.7" stroke="#f00" stroke-width="1.3"/><path d="M517.8 609.5L610.2 508.8" stroke="#f00" stroke-width="1.3"/><circle cx="522.8" cy="614.9" r="7.2" fill="none" stroke="#f00" stroke-width="1.4"/><circle cx="639.7" cy="540.9" r="44.4" fill="#e0e0e0" stroke="#f00" stroke-width="1.4"/><linearGradient id="wallF" x1="0" y1="0" x2="1" y2="0"><stop offset="0" stop-color="#7a7a7a"/><stop offset="0.06" stop-color="#5c5c5c"/><stop offset="0.3" stop-color="#6c6c6c"/><stop offset="0.55" stop-color="#8e8e8e"/><stop offset="1" stop-color="#666"/></linearGradient><linearGradient id="rampF" x1="0" y1="0" x2="1" y2="0.25"><stop offset="0" stop-color="#f2f2f2"/><stop offset="0.1" stop-color="#e6e6e6"/><stop offset="0.15" stop-color="#b2b2b2"/><stop offset="0.22" stop-color="#d6d6d6"/><stop offset="0.5" stop-color="#bcbcbc"/><stop offset="0.8" stop-color="#888"/><stop offset="1" stop-color="#5a5a5a"/></linearGradient><linearGradient id="rampF2" x1="0" y1="0" x2="1" y2="0.3"><stop offset="0" stop-color="#f2f2f2"/><stop offset="0.6" stop-color="#d0d0d0"/><stop offset="1" stop-color="#9c9c9c"/></linearGradient><clipPath id="holeF"><ellipse cx="640.2" cy="540.1" rx="27.4" ry="20.4"/></clipPath><clipPath id="cutF"><polygon points="603.6,510.2 643.2,510.2 643.2,519.6 667.4,533.7 677.4,533.7 677.4,568.9 603.6,568.9"/></clipPath><ellipse cx="640.2" cy="540.1" rx="27.4" ry="20.4" fill="url(#wallF)" clip-path="url(#cutF)"/><ellipse cx="640.2" cy="549.6" rx="26" ry="12.2" fill="#fff" clip-path="url(#holeF)"/><polygon points="639.7,549.6 641.8,540.4 643.9,527 643.2,519.9 648.9,522.8 657.3,527 664.8,532 667.7,538.7 666.5,548.8 660.6,545.4 650.6,547.4" fill="url(#rampF)"/><polygon points="639.7,549.6 627.9,551.8 620.4,552.1 627.1,556.3 637.1,560.9 639.2,555.5" fill="url(#rampF2)" clip-path="url(#holeF)"/><path d="M410.6 530.2V552.6H432" fill="none" stroke="#000" stroke-width="1.3"/><path d="M410.6 525.2l-3.1 6.6h6.2zM437 552.6l-6.6 -3.1v6.2z" fill="#000"/><g font-family='"Liberation Serif", "DejaVu Serif", serif' font-style="italic" font-size="15" fill="#111"><text x="408.2" y="520.8">y</text><text x="440.2" y="557.4">x</text></g><g font-family='"Liberation Sans", Arial, sans-serif' fill="#000" stroke="#000" stroke-width="0.12"><path d="M432.4 733.5h1.5M432.4 730.5h1.5M432.4 728.3h1.5M432.4 726.6h1.5M432.4 725.2h1.5M432.4 724h1.5M432.4 723h1.5M432.4 722.1h1.5M432.4 751.1h1.5M432.4 748h1.5M432.4 745.8h1.5M432.4 744.1h1.5M432.4 742.7h1.5M432.4 741.5h1.5M432.4 740.5h1.5M432.4 739.6h1.5M432.4 768.6h1.5M432.4 765.5h1.5M432.4 763.3h1.5M432.4 761.6h1.5M432.4 760.2h1.5M432.4 759h1.5M432.4 758h1.5M432.4 757.1h1.5M432.4 786.1h1.5M432.4 783h1.5M432.4 780.8h1.5M432.4 779.1h1.5M432.4 777.7h1.5M432.4 776.6h1.5M432.4 775.5h1.5M432.4 774.6h1.5M432.4 803.6h1.5M432.4 800.5h1.5M432.4 798.3h1.5M432.4 796.6h1.5M432.4 795.2h1.5M432.4 794.1h1.5M432.4 793h1.5M432.4 792.2h1.5M432.4 821.1h1.5M432.4 818h1.5M432.4 815.8h1.5M432.4 814.1h1.5M432.4 812.7h1.5M432.4 811.6h1.5M432.4 810.6h1.5M432.4 809.7h1.5M432.4 838.6h1.5M432.4 835.5h1.5M432.4 833.3h1.5M432.4 831.6h1.5M432.4 830.3h1.5M432.4 829.1h1.5M432.4 828.1h1.5M432.4 827.2h1.5M432.4 856.1h1.5M432.4 853h1.5M432.4 850.9h1.5M432.4 849.2h1.5M432.4 847.8h1.5M432.4 846.6h1.5M432.4 845.6h1.5M432.4 844.7h1.5" stroke="#111" stroke-width="0.5" fill="none"/><path d="M432.4 721.3h3.0M432.4 738.8h3.0M432.4 756.3h3.0M432.4 773.8h3.0M432.4 791.3h3.0M432.4 808.9h3.0M432.4 826.4h3.0M432.4 843.9h3.0M432.4 861.4h3.0" stroke="#111" stroke-width="0.8" fill="none"/><text x="402.4" y="725.6" text-anchor="start" font-size="13">10<tspan font-size="9.6" dy="-3.9">0</tspan></text><text x="403" y="760.6" text-anchor="start" font-size="13">10<tspan font-size="9.6" dy="-3.9">-2</tspan></text><text x="403" y="795.6" text-anchor="start" font-size="13">10<tspan font-size="9.6" dy="-3.9">-4</tspan></text><text x="403" y="830.7" text-anchor="start" font-size="13">10<tspan font-size="9.6" dy="-3.9">-6</tspan></text><text x="403" y="865.7" text-anchor="start" font-size="13">10<tspan font-size="9.6" dy="-3.9">-8</tspan></text><path d="M447.5 861.4v-3.0M485 861.4v-3.0M522.5 861.4v-3.0M560 861.4v-3.0M597.5 861.4v-3.0" stroke="#111" stroke-width="0.8" fill="none"/><text x="447.5" y="878.2" text-anchor="middle" font-size="13.8">-2</text><text x="485" y="878.2" text-anchor="middle" font-size="13.8">-1</text><text x="522.5" y="878.2" text-anchor="middle" font-size="13.8">0</text><text x="560" y="878.2" text-anchor="middle" font-size="13.8">1</text><text x="597.5" y="878.2" text-anchor="middle" font-size="13.8">2</text><text transform="translate(379.8 791.5) rotate(-90)" text-anchor="middle" font-size="14">Normalized intensity</text></g><text x="522.5" y="901.3" text-anchor="middle" font-family='"Liberation Serif", "DejaVu Serif", serif' font-style="italic" font-size="15.5" fill="#1a1a1a" textLength="21.4" lengthAdjust="spacing">x/λ</text><clipPath id="cf"><rect x="432.4" y="715.8" width="180.89999999999998" height="145.60000000000002"/></clipPath><polyline clip-path="url(#cf)" points="475.5,861.3 476.2,857.9 476.9,856.2 476.9,860 477.3,855.1 478,852.7 478.7,852 479.7,852.9 480.8,856.2 481.8,861.3 485.7,861.3 486.9,855.1 488.7,848.8 491.3,842 493,838 493.6,836.9 493.7,841.8 494.1,835.5 494.8,834.5 496,835.9 497.2,840.4 498.3,850.9 499,861.3 499.3,861.3 499.7,854.1 500.4,845.3 501.4,839.4 503.5,835 506.2,830.6 508.8,826.2 510.2,824.3 510.9,823.6 512,825.2 513,830.4 513.9,841.8 514.6,861.3 514.9,861.3 515.5,847.1 516.3,834.8 517.6,826.4 519,821 520.7,815.9 521.8,808.9 522.3,796.3 522.5,720.1 522.6,796.3 523.2,808.9 524.2,815.9 526,821 527.4,826.4 528.6,834.8 529.5,847.1 530,861.3 530.3,861.3 531,841.8 531.9,830.4 533,825.2 534,823.6 534.7,824.3 536.1,826.2 538.8,830.6 541.4,835 543.5,839.4 544.5,845.3 545.2,854.1 545.6,861.3 545.9,861.3 546.6,850.9 547.7,840.4 548.9,835.9 550.1,834.5 550.8,835.5 551.2,841.8 551.4,836.9 551.9,838 553.6,842 556.3,848.8 558,855.1 559.3,861.3 563.1,861.3 564.2,856.2 565.2,852.9 566.3,852 567,852.7 567.7,855.1 568,860 568,856.2 568.7,857.9 569.4,861.3" fill="none" stroke="#337fe2" stroke-width="0.8" stroke-linejoin="round"/><path d="M432.4 715.8H613.3V861.4" fill="none" stroke="#555" stroke-width="0.9"/><path d="M432.4 715.8V861.4H613.3" fill="none" stroke="#222" stroke-width="1"/></svg></body></html>
